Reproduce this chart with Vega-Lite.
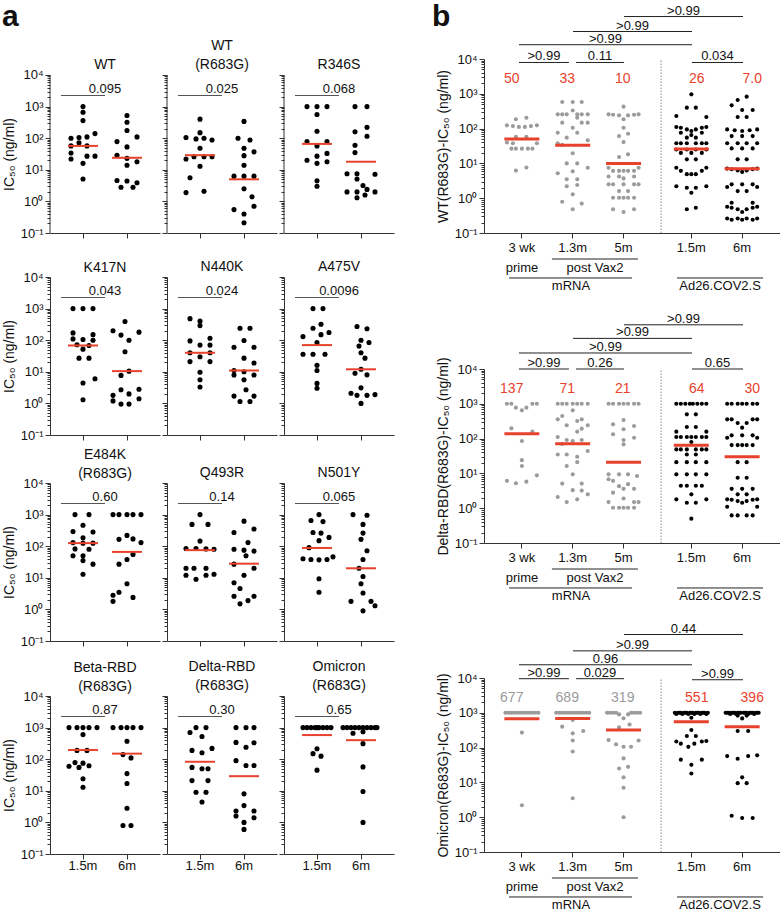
{
"$schema":"https://vega.github.io/schema/vega-lite/v6.json",
"padding":{"left":2,"top":1,"right":0,"bottom":0},
"config":{"font":"Liberation Sans","view":{"stroke":null},
"axis":{"domainColor":"#333","tickColor":"#333","labelColor":"#111","labelFontSize":13,"titleFontSize":14,"titleFontWeight":"normal","titleColor":"#111","grid":false,"labelFont":"Liberation Sans","titleFont":"Liberation Sans","titlePadding":4},
"title":{"fontSize":14,"fontWeight":"normal","color":"#111","offset":3,"lineHeight":19,"baseline":"bottom","font":"Liberation Sans"},
"text":{"font":"Liberation Sans","color":"#111"}},
"datasets":{
"A":[
{"p":"WT","g":1,"v":1000,"s":0},{"p":"WT","g":1,"v":660,"s":0},{"p":"WT","g":1,"v":360,"s":0},{"p":"WT","g":1,"v":140,"s":6},{"p":"WT","g":1,"v":100,"s":-6},{"p":"WT","g":1,"v":105,"s":-2},{"p":"WT","g":1,"v":110,"s":2},{"p":"WT","g":1,"v":72,"s":-2},{"p":"WT","g":1,"v":57,"s":-6},{"p":"WT","g":1,"v":57,"s":2},{"p":"WT","g":1,"v":34,"s":-6},{"p":"WT","g":1,"v":27,"s":2},{"p":"WT","g":1,"v":27,"s":6},{"p":"WT","g":1,"v":22,"s":-6},{"p":"WT","g":1,"v":16,"s":0},{"p":"WT","g":1,"v":5.1,"s":0},
{"p":"WT","g":2,"v":520,"s":0},{"p":"WT","g":2,"v":320,"s":0},{"p":"WT","g":2,"v":175,"s":0},{"p":"WT","g":2,"v":110,"s":5},{"p":"WT","g":2,"v":78,"s":-5},{"p":"WT","g":2,"v":53,"s":0},{"p":"WT","g":2,"v":29,"s":-5},{"p":"WT","g":2,"v":23,"s":0},{"p":"WT","g":2,"v":18,"s":5},{"p":"WT","g":2,"v":14,"s":0},{"p":"WT","g":2,"v":4.6,"s":-5},{"p":"WT","g":2,"v":4.4,"s":0},{"p":"WT","g":2,"v":3.9,"s":5},{"p":"WT","g":2,"v":2.8,"s":-3},{"p":"WT","g":2,"v":2.8,"s":3},
{"p":"WTR","g":1,"v":400,"s":0},{"p":"WTR","g":1,"v":150,"s":0},{"p":"WTR","g":1,"v":105,"s":-7},{"p":"WTR","g":1,"v":95,"s":-2},{"p":"WTR","g":1,"v":100,"s":2},{"p":"WTR","g":1,"v":88,"s":6},{"p":"WTR","g":1,"v":48,"s":0},{"p":"WTR","g":1,"v":22,"s":-7},{"p":"WTR","g":1,"v":26,"s":-3},{"p":"WTR","g":1,"v":26,"s":2},{"p":"WTR","g":1,"v":26,"s":6},{"p":"WTR","g":1,"v":13,"s":0},{"p":"WTR","g":1,"v":5.6,"s":-5},{"p":"WTR","g":1,"v":1.9,"s":-7},{"p":"WTR","g":1,"v":2.1,"s":2},
{"p":"WTR","g":2,"v":340,"s":0},{"p":"WTR","g":2,"v":100,"s":-3},{"p":"WTR","g":2,"v":88,"s":3},{"p":"WTR","g":2,"v":48,"s":0},{"p":"WTR","g":2,"v":37,"s":5},{"p":"WTR","g":2,"v":28,"s":0},{"p":"WTR","g":2,"v":14,"s":0},{"p":"WTR","g":2,"v":6.3,"s":-5},{"p":"WTR","g":2,"v":6.3,"s":0},{"p":"WTR","g":2,"v":6.3,"s":5},{"p":"WTR","g":2,"v":2.5,"s":0},{"p":"WTR","g":2,"v":1.4,"s":4},{"p":"WTR","g":2,"v":0.7,"s":5},{"p":"WTR","g":2,"v":0.55,"s":-5},{"p":"WTR","g":2,"v":0.4,"s":0},{"p":"WTR","g":2,"v":0.21,"s":0},
{"p":"R346S","g":1,"v":1000,"s":-5},{"p":"R346S","g":1,"v":1000,"s":0},{"p":"R346S","g":1,"v":1000,"s":5},{"p":"R346S","g":1,"v":560,"s":0},{"p":"R346S","g":1,"v":165,"s":0},{"p":"R346S","g":1,"v":78,"s":-5},{"p":"R346S","g":1,"v":78,"s":5},{"p":"R346S","g":1,"v":57,"s":0},{"p":"R346S","g":1,"v":33,"s":5},{"p":"R346S","g":1,"v":27,"s":0},{"p":"R346S","g":1,"v":20,"s":-5},{"p":"R346S","g":1,"v":18,"s":5},{"p":"R346S","g":1,"v":16,"s":0},{"p":"R346S","g":1,"v":4.5,"s":0},{"p":"R346S","g":1,"v":3,"s":0},
{"p":"R346S","g":2,"v":1000,"s":-3},{"p":"R346S","g":2,"v":1000,"s":3},{"p":"R346S","g":2,"v":220,"s":3},{"p":"R346S","g":2,"v":160,"s":-3},{"p":"R346S","g":2,"v":115,"s":3},{"p":"R346S","g":2,"v":60,"s":-3},{"p":"R346S","g":2,"v":35,"s":-3},{"p":"R346S","g":2,"v":7.5,"s":-7},{"p":"R346S","g":2,"v":7.5,"s":-2},{"p":"R346S","g":2,"v":7.2,"s":7},{"p":"R346S","g":2,"v":5.1,"s":-2},{"p":"R346S","g":2,"v":3.2,"s":1},{"p":"R346S","g":2,"v":2,"s":-7},{"p":"R346S","g":2,"v":2,"s":-2},{"p":"R346S","g":2,"v":2.4,"s":3},{"p":"R346S","g":2,"v":2,"s":7},{"p":"R346S","g":2,"v":1.3,"s":-2},{"p":"R346S","g":2,"v":1.6,"s":2},
{"p":"K417N","g":1,"v":1000,"s":-5},{"p":"K417N","g":1,"v":1000,"s":0},{"p":"K417N","g":1,"v":1000,"s":5},{"p":"K417N","g":1,"v":170,"s":-5},{"p":"K417N","g":1,"v":150,"s":5},{"p":"K417N","g":1,"v":110,"s":-5},{"p":"K417N","g":1,"v":105,"s":0},{"p":"K417N","g":1,"v":100,"s":5},{"p":"K417N","g":1,"v":72,"s":-3},{"p":"K417N","g":1,"v":68,"s":3},{"p":"K417N","g":1,"v":52,"s":0},{"p":"K417N","g":1,"v":27,"s":-2},{"p":"K417N","g":1,"v":27,"s":3},{"p":"K417N","g":1,"v":6,"s":6},{"p":"K417N","g":1,"v":4.4,"s":0},{"p":"K417N","g":1,"v":1.3,"s":0},
{"p":"K417N","g":2,"v":390,"s":-1},{"p":"K417N","g":2,"v":200,"s":-7},{"p":"K417N","g":2,"v":180,"s":6},{"p":"K417N","g":2,"v":145,"s":-3},{"p":"K417N","g":2,"v":100,"s":1},{"p":"K417N","g":2,"v":43,"s":-1},{"p":"K417N","g":2,"v":10.5,"s":1},{"p":"K417N","g":2,"v":7.7,"s":-3},{"p":"K417N","g":2,"v":2.8,"s":6},{"p":"K417N","g":2,"v":2.7,"s":-3},{"p":"K417N","g":2,"v":1.8,"s":-7},{"p":"K417N","g":2,"v":2,"s":1},{"p":"K417N","g":2,"v":1.4,"s":6},{"p":"K417N","g":2,"v":1.2,"s":-7},{"p":"K417N","g":2,"v":0.95,"s":-3},{"p":"K417N","g":2,"v":0.95,"s":1},
{"p":"N440K","g":1,"v":480,"s":-5},{"p":"N440K","g":1,"v":400,"s":0},{"p":"N440K","g":1,"v":290,"s":0},{"p":"N440K","g":1,"v":115,"s":5},{"p":"N440K","g":1,"v":95,"s":-5},{"p":"N440K","g":1,"v":70,"s":0},{"p":"N440K","g":1,"v":70,"s":5},{"p":"N440K","g":1,"v":40,"s":-5},{"p":"N440K","g":1,"v":40,"s":5},{"p":"N440K","g":1,"v":30,"s":0},{"p":"N440K","g":1,"v":21,"s":-5},{"p":"N440K","g":1,"v":21,"s":5},{"p":"N440K","g":1,"v":9.7,"s":0},{"p":"N440K","g":1,"v":5.6,"s":0},{"p":"N440K","g":1,"v":3.3,"s":0},
{"p":"N440K","g":2,"v":240,"s":-2},{"p":"N440K","g":2,"v":240,"s":3},{"p":"N440K","g":2,"v":98,"s":0},{"p":"N440K","g":2,"v":60,"s":-5},{"p":"N440K","g":2,"v":60,"s":5},{"p":"N440K","g":2,"v":27,"s":0},{"p":"N440K","g":2,"v":19,"s":5},{"p":"N440K","g":2,"v":11,"s":-5},{"p":"N440K","g":2,"v":10,"s":0},{"p":"N440K","g":2,"v":7.9,"s":-5},{"p":"N440K","g":2,"v":7.9,"s":5},{"p":"N440K","g":2,"v":5.6,"s":0},{"p":"N440K","g":2,"v":2.7,"s":1},{"p":"N440K","g":2,"v":1.7,"s":-5},{"p":"N440K","g":2,"v":1.7,"s":5},{"p":"N440K","g":2,"v":1.15,"s":-2},{"p":"N440K","g":2,"v":1.15,"s":3},
{"p":"A475V","g":1,"v":1000,"s":-2},{"p":"A475V","g":1,"v":1000,"s":3},{"p":"A475V","g":1,"v":320,"s":2},{"p":"A475V","g":1,"v":240,"s":-2},{"p":"A475V","g":1,"v":175,"s":6},{"p":"A475V","g":1,"v":150,"s":2},{"p":"A475V","g":1,"v":130,"s":-7},{"p":"A475V","g":1,"v":85,"s":0},{"p":"A475V","g":1,"v":36,"s":-7},{"p":"A475V","g":1,"v":36,"s":-2},{"p":"A475V","g":1,"v":36,"s":4},{"p":"A475V","g":1,"v":16,"s":0},{"p":"A475V","g":1,"v":11,"s":0},{"p":"A475V","g":1,"v":4.3,"s":0},{"p":"A475V","g":1,"v":3,"s":0},
{"p":"A475V","g":2,"v":270,"s":-2},{"p":"A475V","g":2,"v":230,"s":3},{"p":"A475V","g":2,"v":100,"s":0},{"p":"A475V","g":2,"v":85,"s":4},{"p":"A475V","g":2,"v":65,"s":-1},{"p":"A475V","g":2,"v":40,"s":0},{"p":"A475V","g":2,"v":27,"s":2},{"p":"A475V","g":2,"v":12,"s":0},{"p":"A475V","g":2,"v":9,"s":-3},{"p":"A475V","g":2,"v":8,"s":3},{"p":"A475V","g":2,"v":3.1,"s":0},{"p":"A475V","g":2,"v":2.1,"s":-5},{"p":"A475V","g":2,"v":1.8,"s":-2},{"p":"A475V","g":2,"v":1.8,"s":3},{"p":"A475V","g":2,"v":1.9,"s":7},{"p":"A475V","g":2,"v":1,"s":0},
{"p":"E484K","g":1,"v":1000,"s":-4},{"p":"E484K","g":1,"v":1000,"s":3},{"p":"E484K","g":1,"v":460,"s":0},{"p":"E484K","g":1,"v":290,"s":-5},{"p":"E484K","g":1,"v":280,"s":5},{"p":"E484K","g":1,"v":185,"s":0},{"p":"E484K","g":1,"v":130,"s":-5},{"p":"E484K","g":1,"v":125,"s":0},{"p":"E484K","g":1,"v":125,"s":5},{"p":"E484K","g":1,"v":82,"s":-4},{"p":"E484K","g":1,"v":80,"s":3},{"p":"E484K","g":1,"v":50,"s":-5},{"p":"E484K","g":1,"v":50,"s":0},{"p":"E484K","g":1,"v":35,"s":0},{"p":"E484K","g":1,"v":27,"s":5},{"p":"E484K","g":1,"v":13,"s":0},
{"p":"E484K","g":2,"v":1000,"s":-7},{"p":"E484K","g":2,"v":1000,"s":-4},{"p":"E484K","g":2,"v":1000,"s":0},{"p":"E484K","g":2,"v":1000,"s":3},{"p":"E484K","g":2,"v":1000,"s":7},{"p":"E484K","g":2,"v":220,"s":0},{"p":"E484K","g":2,"v":165,"s":-4},{"p":"E484K","g":2,"v":170,"s":3},{"p":"E484K","g":2,"v":130,"s":7},{"p":"E484K","g":2,"v":55,"s":3},{"p":"E484K","g":2,"v":38,"s":0},{"p":"E484K","g":2,"v":27,"s":-4},{"p":"E484K","g":2,"v":6.5,"s":0},{"p":"E484K","g":2,"v":3.5,"s":-4},{"p":"E484K","g":2,"v":2.8,"s":-7},{"p":"E484K","g":2,"v":2.4,"s":3},{"p":"E484K","g":2,"v":1.8,"s":-7},
{"p":"Q493R","g":1,"v":1000,"s":0},{"p":"Q493R","g":1,"v":490,"s":-4},{"p":"Q493R","g":1,"v":490,"s":4},{"p":"Q493R","g":1,"v":145,"s":0},{"p":"Q493R","g":1,"v":85,"s":-7},{"p":"Q493R","g":1,"v":85,"s":-2},{"p":"Q493R","g":1,"v":82,"s":3},{"p":"Q493R","g":1,"v":80,"s":7},{"p":"Q493R","g":1,"v":20,"s":-7},{"p":"Q493R","g":1,"v":20,"s":-3},{"p":"Q493R","g":1,"v":20,"s":3},{"p":"Q493R","g":1,"v":13,"s":7},{"p":"Q493R","g":1,"v":12,"s":-7},{"p":"Q493R","g":1,"v":12,"s":3},{"p":"Q493R","g":1,"v":9,"s":-2},
{"p":"Q493R","g":2,"v":620,"s":0},{"p":"Q493R","g":2,"v":350,"s":5},{"p":"Q493R","g":2,"v":270,"s":-5},{"p":"Q493R","g":2,"v":130,"s":2},{"p":"Q493R","g":2,"v":80,"s":-5},{"p":"Q493R","g":2,"v":75,"s":0},{"p":"Q493R","g":2,"v":70,"s":5},{"p":"Q493R","g":2,"v":50,"s":1},{"p":"Q493R","g":2,"v":27,"s":-5},{"p":"Q493R","g":2,"v":20,"s":5},{"p":"Q493R","g":2,"v":12,"s":0},{"p":"Q493R","g":2,"v":7,"s":-5},{"p":"Q493R","g":2,"v":4.6,"s":-2},{"p":"Q493R","g":2,"v":2.6,"s":-5},{"p":"Q493R","g":2,"v":2.6,"s":5},{"p":"Q493R","g":2,"v":1.9,"s":2},{"p":"Q493R","g":2,"v":1.5,"s":-2},
{"p":"N501Y","g":1,"v":1000,"s":1},{"p":"N501Y","g":1,"v":650,"s":-3},{"p":"N501Y","g":1,"v":600,"s":3},{"p":"N501Y","g":1,"v":270,"s":-2},{"p":"N501Y","g":1,"v":260,"s":2},{"p":"N501Y","g":1,"v":190,"s":6},{"p":"N501Y","g":1,"v":150,"s":1},{"p":"N501Y","g":1,"v":90,"s":-4},{"p":"N501Y","g":1,"v":40,"s":-7},{"p":"N501Y","g":1,"v":38,"s":-3},{"p":"N501Y","g":1,"v":37,"s":1},{"p":"N501Y","g":1,"v":38,"s":5},{"p":"N501Y","g":1,"v":46,"s":8},{"p":"N501Y","g":1,"v":9.3,"s":1},{"p":"N501Y","g":1,"v":3.5,"s":1},
{"p":"N501Y","g":2,"v":1000,"s":-4},{"p":"N501Y","g":2,"v":950,"s":3},{"p":"N501Y","g":2,"v":490,"s":1},{"p":"N501Y","g":2,"v":260,"s":1},{"p":"N501Y","g":2,"v":165,"s":0},{"p":"N501Y","g":2,"v":72,"s":3},{"p":"N501Y","g":2,"v":38,"s":1},{"p":"N501Y","g":2,"v":20,"s":-1},{"p":"N501Y","g":2,"v":11,"s":1},{"p":"N501Y","g":2,"v":6.5,"s":0},{"p":"N501Y","g":2,"v":3.3,"s":1},{"p":"N501Y","g":2,"v":1.8,"s":-5},{"p":"N501Y","g":2,"v":1.8,"s":5},{"p":"N501Y","g":2,"v":1.3,"s":7},{"p":"N501Y","g":2,"v":0.9,"s":1},
{"p":"Beta","g":1,"v":1000,"s":-7},{"p":"Beta","g":1,"v":1000,"s":-3},{"p":"Beta","g":1,"v":1000,"s":0},{"p":"Beta","g":1,"v":1000,"s":3},{"p":"Beta","g":1,"v":1000,"s":7},{"p":"Beta","g":1,"v":600,"s":0},{"p":"Beta","g":1,"v":190,"s":-3},{"p":"Beta","g":1,"v":190,"s":2},{"p":"Beta","g":1,"v":78,"s":-4},{"p":"Beta","g":1,"v":75,"s":0},{"p":"Beta","g":1,"v":62,"s":3},{"p":"Beta","g":1,"v":60,"s":-7},{"p":"Beta","g":1,"v":55,"s":-2},{"p":"Beta","g":1,"v":24,"s":0},{"p":"Beta","g":1,"v":13,"s":0},
{"p":"Beta","g":2,"v":1000,"s":-7},{"p":"Beta","g":2,"v":1000,"s":-3},{"p":"Beta","g":2,"v":1000,"s":0},{"p":"Beta","g":2,"v":1000,"s":3},{"p":"Beta","g":2,"v":1000,"s":7},{"p":"Beta","g":2,"v":370,"s":0},{"p":"Beta","g":2,"v":140,"s":-2},{"p":"Beta","g":2,"v":110,"s":2},{"p":"Beta","g":2,"v":35,"s":0},{"p":"Beta","g":2,"v":17,"s":0},{"p":"Beta","g":2,"v":2.8,"s":0},{"p":"Beta","g":2,"v":0.8,"s":-2},{"p":"Beta","g":2,"v":0.8,"s":2},
{"p":"Delta","g":1,"v":1000,"s":-2},{"p":"Delta","g":1,"v":1000,"s":3},{"p":"Delta","g":1,"v":700,"s":-5},{"p":"Delta","g":1,"v":520,"s":1},{"p":"Delta","g":1,"v":220,"s":6},{"p":"Delta","g":1,"v":190,"s":-4},{"p":"Delta","g":1,"v":160,"s":1},{"p":"Delta","g":1,"v":55,"s":-4},{"p":"Delta","g":1,"v":50,"s":1},{"p":"Delta","g":1,"v":50,"s":4},{"p":"Delta","g":1,"v":21,"s":-4},{"p":"Delta","g":1,"v":21,"s":4},{"p":"Delta","g":1,"v":9,"s":-2},{"p":"Delta","g":1,"v":9,"s":3},{"p":"Delta","g":1,"v":4.4,"s":1},
{"p":"Delta","g":2,"v":1000,"s":-4},{"p":"Delta","g":2,"v":1000,"s":1},{"p":"Delta","g":2,"v":1000,"s":5},{"p":"Delta","g":2,"v":340,"s":-4},{"p":"Delta","g":2,"v":330,"s":5},{"p":"Delta","g":2,"v":240,"s":1},{"p":"Delta","g":2,"v":90,"s":-4},{"p":"Delta","g":2,"v":63,"s":1},{"p":"Delta","g":2,"v":63,"s":5},{"p":"Delta","g":2,"v":8,"s":0},{"p":"Delta","g":2,"v":3.4,"s":0},{"p":"Delta","g":2,"v":2.3,"s":-4},{"p":"Delta","g":2,"v":2.3,"s":5},{"p":"Delta","g":2,"v":1.6,"s":-4},{"p":"Delta","g":2,"v":1.4,"s":5},{"p":"Delta","g":2,"v":1,"s":0},{"p":"Delta","g":2,"v":0.6,"s":0},
{"p":"Omi","g":1,"v":1000,"s":-7},{"p":"Omi","g":1,"v":1000,"s":-5},{"p":"Omi","g":1,"v":1000,"s":-3},{"p":"Omi","g":1,"v":1000,"s":-1},{"p":"Omi","g":1,"v":1000,"s":1},{"p":"Omi","g":1,"v":1000,"s":3},{"p":"Omi","g":1,"v":1000,"s":5},{"p":"Omi","g":1,"v":1000,"s":7},{"p":"Omi","g":1,"v":1000,"s":0},{"p":"Omi","g":1,"v":215,"s":0},{"p":"Omi","g":1,"v":150,"s":-2},{"p":"Omi","g":1,"v":125,"s":2},{"p":"Omi","g":1,"v":45,"s":0},
{"p":"Omi","g":2,"v":1000,"s":-9},{"p":"Omi","g":2,"v":1000,"s":-7},{"p":"Omi","g":2,"v":1000,"s":-5},{"p":"Omi","g":2,"v":1000,"s":-3},{"p":"Omi","g":2,"v":1000,"s":-1},{"p":"Omi","g":2,"v":1000,"s":1},{"p":"Omi","g":2,"v":1000,"s":3},{"p":"Omi","g":2,"v":1000,"s":5},{"p":"Omi","g":2,"v":1000,"s":7},{"p":"Omi","g":2,"v":1000,"s":8},{"p":"Omi","g":2,"v":740,"s":1},{"p":"Omi","g":2,"v":660,"s":-4},{"p":"Omi","g":2,"v":310,"s":1},{"p":"Omi","g":2,"v":57,"s":1},{"p":"Omi","g":2,"v":9.5,"s":1},{"p":"Omi","g":2,"v":1,"s":1},
{"p":"WT","g":1,"v":57,"k":"m"},{"p":"WT","g":2,"v":24,"k":"m"},{"p":"WTR","g":1,"v":29,"k":"m"},{"p":"WTR","g":2,"v":5,"k":"m"},{"p":"R346S","g":1,"v":66,"k":"m"},{"p":"R346S","g":2,"v":18,"k":"m"},{"p":"K417N","g":1,"v":68,"k":"m"},{"p":"K417N","g":2,"v":10.5,"k":"m"},{"p":"N440K","g":1,"v":40,"k":"m"},{"p":"N440K","g":2,"v":11,"k":"m"},{"p":"A475V","g":1,"v":70,"k":"m"},{"p":"A475V","g":2,"v":12,"k":"m"},{"p":"E484K","g":1,"v":125,"k":"m"},{"p":"E484K","g":2,"v":66,"k":"m"},{"p":"Q493R","g":1,"v":75,"k":"m"},{"p":"Q493R","g":2,"v":28,"k":"m"},{"p":"N501Y","g":1,"v":88,"k":"m"},{"p":"N501Y","g":2,"v":20,"k":"m"},{"p":"Beta","g":1,"v":195,"k":"m"},{"p":"Beta","g":2,"v":150,"k":"m"},{"p":"Delta","g":1,"v":83,"k":"m"},{"p":"Delta","g":2,"v":29,"k":"m"},{"p":"Omi","g":1,"v":580,"k":"m"},{"p":"Omi","g":2,"v":400,"k":"m"},
{"p":"WT","k":"p","t":"0.095"},{"p":"WTR","k":"p","t":"0.025"},{"p":"R346S","k":"p","t":"0.068"},{"p":"K417N","k":"p","t":"0.043"},{"p":"N440K","k":"p","t":"0.024"},{"p":"A475V","k":"p","t":"0.0096"},{"p":"E484K","k":"p","t":"0.60"},{"p":"Q493R","k":"p","t":"0.14"},{"p":"N501Y","k":"p","t":"0.065"},{"p":"Beta","k":"p","t":"0.87"},{"p":"Delta","k":"p","t":"0.30"},{"p":"Omi","k":"p","t":"0.65"}
],
"B":[
{"p":1,"g":1,"v":205,"s":3},{"p":1,"g":1,"v":185,"s":-4},{"p":1,"g":1,"v":124,"s":-10},{"p":1,"g":1,"v":118,"s":-6},{"p":1,"g":1,"v":112,"s":-2},{"p":1,"g":1,"v":112,"s":2},{"p":1,"g":1,"v":118,"s":6},{"p":1,"g":1,"v":124,"s":10},{"p":1,"g":1,"v":58,"s":-4},{"p":1,"g":1,"v":58,"s":3},{"p":1,"g":1,"v":40,"s":-10},{"p":1,"g":1,"v":38,"s":-6},{"p":1,"g":1,"v":38,"s":10},{"p":1,"g":1,"v":26.5,"s":-7},{"p":1,"g":1,"v":26.5,"s":-4},{"p":1,"g":1,"v":26.5,"s":0},{"p":1,"g":1,"v":26.5,"s":4},{"p":1,"g":1,"v":26.5,"s":7},{"p":1,"g":1,"v":6.2,"s":-4},{"p":1,"g":1,"v":7.6,"s":3},
{"p":1,"g":2,"v":581,"s":-7},{"p":1,"g":2,"v":581,"s":0},{"p":1,"g":2,"v":581,"s":6},{"p":1,"g":2,"v":331,"s":0},{"p":1,"g":2,"v":257,"s":-10},{"p":1,"g":2,"v":257,"s":-7},{"p":1,"g":2,"v":257,"s":-4},{"p":1,"g":2,"v":257,"s":3},{"p":1,"g":2,"v":257,"s":6},{"p":1,"g":2,"v":257,"s":10},{"p":1,"g":2,"v":206,"s":3},{"p":1,"g":2,"v":148,"s":-7},{"p":1,"g":2,"v":148,"s":6},{"p":1,"g":2,"v":148,"s":10},{"p":1,"g":2,"v":106,"s":0},{"p":1,"g":2,"v":76,"s":-10},{"p":1,"g":2,"v":76,"s":3},{"p":1,"g":2,"v":55,"s":-4},{"p":1,"g":2,"v":46,"s":10},{"p":1,"g":2,"v":38,"s":-10},{"p":1,"g":2,"v":34,"s":-7},{"p":1,"g":2,"v":19.5,"s":0},{"p":1,"g":2,"v":10,"s":-4},{"p":1,"g":2,"v":10,"s":3},{"p":1,"g":2,"v":7.5,"s":10},{"p":1,"g":2,"v":5.9,"s":0},{"p":1,"g":2,"v":5.2,"s":-10},{"p":1,"g":2,"v":3.5,"s":-4},{"p":1,"g":2,"v":3.5,"s":3},{"p":1,"g":2,"v":2.4,"s":3},{"p":1,"g":2,"v":2.2,"s":-4},{"p":1,"g":2,"v":1.29,"s":0},{"p":1,"g":2,"v":0.79,"s":-7},{"p":1,"g":2,"v":0.7,"s":6},{"p":1,"g":2,"v":0.48,"s":0},
{"p":1,"g":3,"v":427,"s":0},{"p":1,"g":3,"v":257,"s":-10},{"p":1,"g":3,"v":250,"s":-7},{"p":1,"g":3,"v":240,"s":-3},{"p":1,"g":3,"v":240,"s":3},{"p":1,"g":3,"v":250,"s":7},{"p":1,"g":3,"v":257,"s":10},{"p":1,"g":3,"v":185,"s":0},{"p":1,"g":3,"v":106,"s":0},{"p":1,"g":3,"v":61,"s":-3},{"p":1,"g":3,"v":71,"s":3},{"p":1,"g":3,"v":41,"s":0},{"p":1,"g":3,"v":15.3,"s":-3},{"p":1,"g":3,"v":18.2,"s":3},{"p":1,"g":3,"v":7.5,"s":-10},{"p":1,"g":3,"v":6.1,"s":-7},{"p":1,"g":3,"v":6.1,"s":-3},{"p":1,"g":3,"v":6.1,"s":0},{"p":1,"g":3,"v":6.1,"s":3},{"p":1,"g":3,"v":6.1,"s":7},{"p":1,"g":3,"v":7.5,"s":10},{"p":1,"g":3,"v":4.2,"s":-10},{"p":1,"g":3,"v":4.2,"s":-3},{"p":1,"g":3,"v":3.7,"s":0},{"p":1,"g":3,"v":4.2,"s":7},{"p":1,"g":3,"v":2.5,"s":-10},{"p":1,"g":3,"v":2.5,"s":-7},{"p":1,"g":3,"v":2.5,"s":0},{"p":1,"g":3,"v":2.5,"s":7},{"p":1,"g":3,"v":2.5,"s":10},{"p":1,"g":3,"v":1.6,"s":-3},{"p":1,"g":3,"v":1.6,"s":3},{"p":1,"g":3,"v":1.03,"s":-7},{"p":1,"g":3,"v":1.03,"s":-3},{"p":1,"g":3,"v":1.03,"s":0},{"p":1,"g":3,"v":1.03,"s":3},{"p":1,"g":3,"v":1.03,"s":7},{"p":1,"g":3,"v":0.48,"s":-7},{"p":1,"g":3,"v":0.48,"s":7},{"p":1,"g":3,"v":0.4,"s":0},
{"p":1,"g":4.4,"v":965,"s":0},{"p":1,"g":4.4,"v":399,"s":-3},{"p":1,"g":4.4,"v":399,"s":3},{"p":1,"g":4.4,"v":230,"s":-10},{"p":1,"g":4.4,"v":215,"s":10},{"p":1,"g":4.4,"v":111,"s":-10},{"p":1,"g":4.4,"v":106,"s":-7},{"p":1,"g":4.4,"v":95,"s":-3},{"p":1,"g":4.4,"v":85,"s":0},{"p":1,"g":4.4,"v":95,"s":3},{"p":1,"g":4.4,"v":106,"s":7},{"p":1,"g":4.4,"v":111,"s":10},{"p":1,"g":4.4,"v":76,"s":-7},{"p":1,"g":4.4,"v":65,"s":0},{"p":1,"g":4.4,"v":76,"s":7},{"p":1,"g":4.4,"v":55,"s":-3},{"p":1,"g":4.4,"v":55,"s":3},{"p":1,"g":4.4,"v":38,"s":-10},{"p":1,"g":4.4,"v":38,"s":-7},{"p":1,"g":4.4,"v":38,"s":-3},{"p":1,"g":4.4,"v":38,"s":3},{"p":1,"g":4.4,"v":38,"s":7},{"p":1,"g":4.4,"v":38,"s":10},{"p":1,"g":4.4,"v":25,"s":-10},{"p":1,"g":4.4,"v":25,"s":-3},{"p":1,"g":4.4,"v":25,"s":3},{"p":1,"g":4.4,"v":25,"s":10},{"p":1,"g":4.4,"v":20,"s":-7},{"p":1,"g":4.4,"v":20,"s":0},{"p":1,"g":4.4,"v":20,"s":7},{"p":1,"g":4.4,"v":13.1,"s":-3},{"p":1,"g":4.4,"v":13.1,"s":3},{"p":1,"g":4.4,"v":7.5,"s":-10},{"p":1,"g":4.4,"v":7.5,"s":10},{"p":1,"g":4.4,"v":6.1,"s":-7},{"p":1,"g":4.4,"v":6.1,"s":7},{"p":1,"g":4.4,"v":4.9,"s":-3},{"p":1,"g":4.4,"v":4.9,"s":0},{"p":1,"g":4.4,"v":4.9,"s":3},{"p":1,"g":4.4,"v":2.2,"s":-10},{"p":1,"g":4.4,"v":2.2,"s":10},{"p":1,"g":4.4,"v":2,"s":-3},{"p":1,"g":4.4,"v":2,"s":3},{"p":1,"g":4.4,"v":1.44,"s":0},{"p":1,"g":4.4,"v":0.48,"s":-3},{"p":1,"g":4.4,"v":0.53,"s":3},
{"p":1,"g":5.4,"v":828,"s":3},{"p":1,"g":5.4,"v":664,"s":-3},{"p":1,"g":5.4,"v":466,"s":-7},{"p":1,"g":5.4,"v":342,"s":0},{"p":1,"g":5.4,"v":342,"s":7},{"p":1,"g":5.4,"v":215,"s":-3},{"p":1,"g":5.4,"v":215,"s":3},{"p":1,"g":5.4,"v":95,"s":-10},{"p":1,"g":5.4,"v":90,"s":-5},{"p":1,"g":5.4,"v":85,"s":0},{"p":1,"g":5.4,"v":90,"s":5},{"p":1,"g":5.4,"v":95,"s":10},{"p":1,"g":5.4,"v":61,"s":-7},{"p":1,"g":5.4,"v":61,"s":0},{"p":1,"g":5.4,"v":61,"s":7},{"p":1,"g":5.4,"v":38,"s":-10},{"p":1,"g":5.4,"v":38,"s":-3},{"p":1,"g":5.4,"v":38,"s":3},{"p":1,"g":5.4,"v":38,"s":10},{"p":1,"g":5.4,"v":27,"s":-7},{"p":1,"g":5.4,"v":27,"s":0},{"p":1,"g":5.4,"v":27,"s":7},{"p":1,"g":5.4,"v":13.1,"s":-3},{"p":1,"g":5.4,"v":13.1,"s":3},{"p":1,"g":5.4,"v":7.1,"s":-10},{"p":1,"g":5.4,"v":6.8,"s":-7},{"p":1,"g":5.4,"v":6.3,"s":-3},{"p":1,"g":5.4,"v":5.7,"s":0},{"p":1,"g":5.4,"v":6.3,"s":3},{"p":1,"g":5.4,"v":6.8,"s":7},{"p":1,"g":5.4,"v":7.1,"s":10},{"p":1,"g":5.4,"v":2.5,"s":-7},{"p":1,"g":5.4,"v":2.5,"s":0},{"p":1,"g":5.4,"v":2.5,"s":7},{"p":1,"g":5.4,"v":2.1,"s":-10},{"p":1,"g":5.4,"v":2.1,"s":10},{"p":1,"g":5.4,"v":1.6,"s":-3},{"p":1,"g":5.4,"v":1.6,"s":3},{"p":1,"g":5.4,"v":0.74,"s":-7},{"p":1,"g":5.4,"v":0.74,"s":7},{"p":1,"g":5.4,"v":0.57,"s":-10},{"p":1,"g":5.4,"v":0.53,"s":-7},{"p":1,"g":5.4,"v":0.48,"s":-3},{"p":1,"g":5.4,"v":0.4,"s":0},{"p":1,"g":5.4,"v":0.48,"s":3},{"p":1,"g":5.4,"v":0.53,"s":7},{"p":1,"g":5.4,"v":0.57,"s":10},{"p":1,"g":5.4,"v":0.26,"s":-10},{"p":1,"g":5.4,"v":0.26,"s":-3},{"p":1,"g":5.4,"v":0.26,"s":3},{"p":1,"g":5.4,"v":0.26,"s":10},{"p":1,"g":5.4,"v":0.24,"s":-7},{"p":1,"g":5.4,"v":0.24,"s":0},{"p":1,"g":5.4,"v":0.24,"s":7},
{"p":2,"g":1,"v":1000,"s":-10},{"p":2,"g":1,"v":1000,"s":-7},{"p":2,"g":1,"v":1000,"s":7},{"p":2,"g":1,"v":1000,"s":10},{"p":2,"g":1,"v":774,"s":-4},{"p":2,"g":1,"v":649,"s":0},{"p":2,"g":1,"v":774,"s":3},{"p":2,"g":1,"v":197,"s":-7},{"p":2,"g":1,"v":158,"s":7},{"p":2,"g":1,"v":85,"s":0},{"p":2,"g":1,"v":24,"s":0},{"p":2,"g":1,"v":16.3,"s":0},{"p":2,"g":1,"v":8.8,"s":10},{"p":2,"g":1,"v":6.1,"s":-10},{"p":2,"g":1,"v":5.2,"s":-4},{"p":2,"g":1,"v":5.8,"s":3},
{"p":2,"g":2,"v":1000,"s":-10},{"p":2,"g":2,"v":1000,"s":-7},{"p":2,"g":2,"v":1000,"s":-4},{"p":2,"g":2,"v":1000,"s":0},{"p":2,"g":2,"v":1000,"s":3},{"p":2,"g":2,"v":1000,"s":6},{"p":2,"g":2,"v":1000,"s":10},{"p":2,"g":2,"v":649,"s":0},{"p":2,"g":2,"v":446,"s":-7},{"p":2,"g":2,"v":358,"s":-10},{"p":2,"g":2,"v":358,"s":6},{"p":2,"g":2,"v":321,"s":3},{"p":2,"g":2,"v":241,"s":-4},{"p":2,"g":2,"v":241,"s":10},{"p":2,"g":2,"v":193,"s":6},{"p":2,"g":2,"v":158,"s":3},{"p":2,"g":2,"v":111,"s":-10},{"p":2,"g":2,"v":91,"s":-4},{"p":2,"g":2,"v":91,"s":6},{"p":2,"g":2,"v":85,"s":0},{"p":2,"g":2,"v":70,"s":-7},{"p":2,"g":2,"v":44,"s":10},{"p":2,"g":2,"v":35,"s":-10},{"p":2,"g":2,"v":35,"s":-4},{"p":2,"g":2,"v":30,"s":3},{"p":2,"g":2,"v":21,"s":3},{"p":2,"g":2,"v":16.3,"s":-4},{"p":2,"g":2,"v":9.4,"s":0},{"p":2,"g":2,"v":5.1,"s":-7},{"p":2,"g":2,"v":5.1,"s":6},{"p":2,"g":2,"v":3.3,"s":0},{"p":2,"g":2,"v":3.2,"s":6},{"p":2,"g":2,"v":2.5,"s":10},{"p":2,"g":2,"v":2.1,"s":-10},{"p":2,"g":2,"v":1.5,"s":-4},{"p":2,"g":2,"v":1.8,"s":3},
{"p":2,"g":3,"v":1000,"s":-10},{"p":2,"g":3,"v":1000,"s":-7},{"p":2,"g":3,"v":1000,"s":-3},{"p":2,"g":3,"v":1000,"s":0},{"p":2,"g":3,"v":1000,"s":3},{"p":2,"g":3,"v":1000,"s":7},{"p":2,"g":3,"v":1000,"s":10},{"p":2,"g":3,"v":340,"s":0},{"p":2,"g":3,"v":257,"s":-7},{"p":2,"g":3,"v":230,"s":7},{"p":2,"g":3,"v":185,"s":0},{"p":2,"g":3,"v":133,"s":-7},{"p":2,"g":3,"v":106,"s":7},{"p":2,"g":3,"v":91,"s":0},{"p":2,"g":3,"v":68,"s":0},{"p":2,"g":3,"v":9.4,"s":-10},{"p":2,"g":3,"v":9.4,"s":-3},{"p":2,"g":3,"v":9.4,"s":3},{"p":2,"g":3,"v":8.4,"s":9},{"p":2,"g":3,"v":6.8,"s":-10},{"p":2,"g":3,"v":6.1,"s":-7},{"p":2,"g":3,"v":4.9,"s":3},{"p":2,"g":3,"v":4.3,"s":-3},{"p":2,"g":3,"v":3.6,"s":0},{"p":2,"g":3,"v":3.6,"s":7},{"p":2,"g":3,"v":2.8,"s":-7},{"p":2,"g":3,"v":1.9,"s":0},{"p":2,"g":3,"v":1.5,"s":-10},{"p":2,"g":3,"v":1.5,"s":7},{"p":2,"g":3,"v":1.5,"s":10},{"p":2,"g":3,"v":1.03,"s":-7},{"p":2,"g":3,"v":1.03,"s":-3},{"p":2,"g":3,"v":1.03,"s":0},{"p":2,"g":3,"v":1.03,"s":3},{"p":2,"g":3,"v":1.03,"s":7},
{"p":2,"g":4.4,"v":1000,"s":-10},{"p":2,"g":4.4,"v":1000,"s":-7},{"p":2,"g":4.4,"v":1000,"s":-4},{"p":2,"g":4.4,"v":1000,"s":-1},{"p":2,"g":4.4,"v":1000,"s":1},{"p":2,"g":4.4,"v":1000,"s":4},{"p":2,"g":4.4,"v":1000,"s":7},{"p":2,"g":4.4,"v":1000,"s":10},{"p":2,"g":4.4,"v":498,"s":-3},{"p":2,"g":4.4,"v":498,"s":3},{"p":2,"g":4.4,"v":215,"s":-3},{"p":2,"g":4.4,"v":215,"s":3},{"p":2,"g":4.4,"v":158,"s":-10},{"p":2,"g":4.4,"v":158,"s":10},{"p":2,"g":4.4,"v":111,"s":-10},{"p":2,"g":4.4,"v":111,"s":-7},{"p":2,"g":4.4,"v":111,"s":-3},{"p":2,"g":4.4,"v":111,"s":0},{"p":2,"g":4.4,"v":111,"s":3},{"p":2,"g":4.4,"v":111,"s":7},{"p":2,"g":4.4,"v":111,"s":10},{"p":2,"g":4.4,"v":80,"s":0},{"p":2,"g":4.4,"v":49,"s":-10},{"p":2,"g":4.4,"v":49,"s":-7},{"p":2,"g":4.4,"v":49,"s":-3},{"p":2,"g":4.4,"v":49,"s":3},{"p":2,"g":4.4,"v":49,"s":7},{"p":2,"g":4.4,"v":49,"s":10},{"p":2,"g":4.4,"v":35,"s":-3},{"p":2,"g":4.4,"v":35,"s":3},{"p":2,"g":4.4,"v":21,"s":-10},{"p":2,"g":4.4,"v":21,"s":-3},{"p":2,"g":4.4,"v":21,"s":3},{"p":2,"g":4.4,"v":21,"s":10},{"p":2,"g":4.4,"v":9.4,"s":-10},{"p":2,"g":4.4,"v":9.4,"s":-3},{"p":2,"g":4.4,"v":9.4,"s":3},{"p":2,"g":4.4,"v":9.4,"s":10},{"p":2,"g":4.4,"v":4.4,"s":-7},{"p":2,"g":4.4,"v":4.4,"s":-3},{"p":2,"g":4.4,"v":4.4,"s":3},{"p":2,"g":4.4,"v":4.4,"s":7},{"p":2,"g":4.4,"v":2.5,"s":0},{"p":2,"g":4.4,"v":1.8,"s":-10},{"p":2,"g":4.4,"v":1.8,"s":10},{"p":2,"g":4.4,"v":1.44,"s":-3},{"p":2,"g":4.4,"v":1.44,"s":3},{"p":2,"g":4.4,"v":0.5,"s":0},
{"p":2,"g":5.4,"v":1000,"s":-10},{"p":2,"g":5.4,"v":1000,"s":-7},{"p":2,"g":5.4,"v":1000,"s":-3},{"p":2,"g":5.4,"v":1000,"s":0},{"p":2,"g":5.4,"v":1000,"s":3},{"p":2,"g":5.4,"v":1000,"s":7},{"p":2,"g":5.4,"v":1000,"s":10},{"p":2,"g":5.4,"v":358,"s":-10},{"p":2,"g":5.4,"v":358,"s":-7},{"p":2,"g":5.4,"v":280,"s":-3},{"p":2,"g":5.4,"v":206,"s":0},{"p":2,"g":5.4,"v":280,"s":3},{"p":2,"g":5.4,"v":358,"s":7},{"p":2,"g":5.4,"v":358,"s":10},{"p":2,"g":5.4,"v":124,"s":-7},{"p":2,"g":5.4,"v":124,"s":0},{"p":2,"g":5.4,"v":124,"s":7},{"p":2,"g":5.4,"v":106,"s":-10},{"p":2,"g":5.4,"v":106,"s":10},{"p":2,"g":5.4,"v":65,"s":-7},{"p":2,"g":5.4,"v":65,"s":-3},{"p":2,"g":5.4,"v":65,"s":0},{"p":2,"g":5.4,"v":65,"s":3},{"p":2,"g":5.4,"v":65,"s":7},{"p":2,"g":5.4,"v":21,"s":-3},{"p":2,"g":5.4,"v":21,"s":3},{"p":2,"g":5.4,"v":7.5,"s":-3},{"p":2,"g":5.4,"v":7.5,"s":3},{"p":2,"g":5.4,"v":3.6,"s":-7},{"p":2,"g":5.4,"v":3.6,"s":0},{"p":2,"g":5.4,"v":3.6,"s":7},{"p":2,"g":5.4,"v":2.5,"s":-3},{"p":2,"g":5.4,"v":2.5,"s":3},{"p":2,"g":5.4,"v":1.8,"s":-10},{"p":2,"g":5.4,"v":1.75,"s":-7},{"p":2,"g":5.4,"v":1.6,"s":-3},{"p":2,"g":5.4,"v":1.44,"s":0},{"p":2,"g":5.4,"v":1.6,"s":3},{"p":2,"g":5.4,"v":1.75,"s":7},{"p":2,"g":5.4,"v":1.8,"s":10},{"p":2,"g":5.4,"v":1.1,"s":-10},{"p":2,"g":5.4,"v":1.1,"s":10},{"p":2,"g":5.4,"v":0.62,"s":-7},{"p":2,"g":5.4,"v":0.62,"s":-3},{"p":2,"g":5.4,"v":0.62,"s":3},{"p":2,"g":5.4,"v":0.62,"s":7},
{"p":3,"g":1,"v":1000,"s":-11},{"p":3,"g":1,"v":1000,"s":-9},{"p":3,"g":1,"v":1000,"s":-7},{"p":3,"g":1,"v":1000,"s":-5},{"p":3,"g":1,"v":1000,"s":-3},{"p":3,"g":1,"v":1000,"s":-1},{"p":3,"g":1,"v":1000,"s":1},{"p":3,"g":1,"v":1000,"s":3},{"p":3,"g":1,"v":1000,"s":5},{"p":3,"g":1,"v":1000,"s":7},{"p":3,"g":1,"v":1000,"s":9},{"p":3,"g":1,"v":1000,"s":11},{"p":3,"g":1,"v":270,"s":0},{"p":3,"g":1,"v":2.2,"s":0},
{"p":3,"g":2,"v":1000,"s":-11},{"p":3,"g":2,"v":1000,"s":-9},{"p":3,"g":2,"v":1000,"s":-7},{"p":3,"g":2,"v":1000,"s":-5},{"p":3,"g":2,"v":1000,"s":-3},{"p":3,"g":2,"v":1000,"s":-1},{"p":3,"g":2,"v":1000,"s":1},{"p":3,"g":2,"v":1000,"s":3},{"p":3,"g":2,"v":1000,"s":5},{"p":3,"g":2,"v":1000,"s":7},{"p":3,"g":2,"v":1000,"s":9},{"p":3,"g":2,"v":1000,"s":11},{"p":3,"g":2,"v":620,"s":0},{"p":3,"g":2,"v":400,"s":-7},{"p":3,"g":2,"v":300,"s":7},{"p":3,"g":2,"v":257,"s":0},{"p":3,"g":2,"v":160,"s":0},{"p":3,"g":2,"v":77,"s":0},{"p":3,"g":2,"v":3.5,"s":0},
{"p":3,"g":3,"v":1000,"s":-11},{"p":3,"g":3,"v":1000,"s":-9},{"p":3,"g":3,"v":1000,"s":-7},{"p":3,"g":3,"v":1000,"s":-5},{"p":3,"g":3,"v":1000,"s":5},{"p":3,"g":3,"v":1000,"s":7},{"p":3,"g":3,"v":1000,"s":9},{"p":3,"g":3,"v":1000,"s":11},{"p":3,"g":3,"v":900,"s":-3},{"p":3,"g":3,"v":900,"s":3},{"p":3,"g":3,"v":700,"s":0},{"p":3,"g":3,"v":460,"s":4},{"p":3,"g":3,"v":380,"s":-3},{"p":3,"g":3,"v":165,"s":-10},{"p":3,"g":3,"v":160,"s":10},{"p":3,"g":3,"v":124,"s":-5},{"p":3,"g":3,"v":106,"s":0},{"p":3,"g":3,"v":106,"s":5},{"p":3,"g":3,"v":49,"s":0},{"p":3,"g":3,"v":25,"s":-3},{"p":3,"g":3,"v":28,"s":3},{"p":3,"g":3,"v":14,"s":0},{"p":3,"g":3,"v":7,"s":0},{"p":3,"g":3,"v":1,"s":0},
{"p":3,"g":4.4,"v":1000,"s":-11},{"p":3,"g":4.4,"v":1000,"s":-9},{"p":3,"g":4.4,"v":1000,"s":-7},{"p":3,"g":4.4,"v":1000,"s":-5},{"p":3,"g":4.4,"v":1000,"s":-3},{"p":3,"g":4.4,"v":1000,"s":-1},{"p":3,"g":4.4,"v":1000,"s":1},{"p":3,"g":4.4,"v":1000,"s":3},{"p":3,"g":4.4,"v":1000,"s":5},{"p":3,"g":4.4,"v":1000,"s":7},{"p":3,"g":4.4,"v":1000,"s":9},{"p":3,"g":4.4,"v":1000,"s":11},{"p":3,"g":4.4,"v":1000,"s":-8},{"p":3,"g":4.4,"v":1000,"s":-4},{"p":3,"g":4.4,"v":1000,"s":0},{"p":3,"g":4.4,"v":1000,"s":4},{"p":3,"g":4.4,"v":1000,"s":8},{"p":3,"g":4.4,"v":920,"s":-10},{"p":3,"g":4.4,"v":920,"s":-6},{"p":3,"g":4.4,"v":920,"s":-2},{"p":3,"g":4.4,"v":920,"s":2},{"p":3,"g":4.4,"v":920,"s":6},{"p":3,"g":4.4,"v":920,"s":10},{"p":3,"g":4.4,"v":720,"s":0},{"p":3,"g":4.4,"v":320,"s":0},{"p":3,"g":4.4,"v":215,"s":-3},{"p":3,"g":4.4,"v":215,"s":3},{"p":3,"g":4.4,"v":150,"s":-10},{"p":3,"g":4.4,"v":130,"s":-7},{"p":3,"g":4.4,"v":105,"s":-2},{"p":3,"g":4.4,"v":130,"s":2},{"p":3,"g":4.4,"v":150,"s":7},{"p":3,"g":4.4,"v":155,"s":10},{"p":3,"g":4.4,"v":45,"s":-7},{"p":3,"g":4.4,"v":45,"s":7},{"p":3,"g":4.4,"v":32,"s":0},{"p":3,"g":4.4,"v":18,"s":0},
{"p":3,"g":5.4,"v":1000,"s":-11},{"p":3,"g":5.4,"v":1000,"s":-9},{"p":3,"g":5.4,"v":1000,"s":-7},{"p":3,"g":5.4,"v":1000,"s":-5},{"p":3,"g":5.4,"v":1000,"s":-3},{"p":3,"g":5.4,"v":1000,"s":-1},{"p":3,"g":5.4,"v":1000,"s":1},{"p":3,"g":5.4,"v":1000,"s":3},{"p":3,"g":5.4,"v":1000,"s":5},{"p":3,"g":5.4,"v":1000,"s":7},{"p":3,"g":5.4,"v":1000,"s":9},{"p":3,"g":5.4,"v":1000,"s":11},{"p":3,"g":5.4,"v":1000,"s":-10},{"p":3,"g":5.4,"v":1000,"s":-6},{"p":3,"g":5.4,"v":1000,"s":-2},{"p":3,"g":5.4,"v":1000,"s":2},{"p":3,"g":5.4,"v":1000,"s":6},{"p":3,"g":5.4,"v":1000,"s":10},{"p":3,"g":5.4,"v":930,"s":-8},{"p":3,"g":5.4,"v":930,"s":-4},{"p":3,"g":5.4,"v":930,"s":4},{"p":3,"g":5.4,"v":930,"s":8},{"p":3,"g":5.4,"v":830,"s":-3},{"p":3,"g":5.4,"v":830,"s":3},{"p":3,"g":5.4,"v":690,"s":0},{"p":3,"g":5.4,"v":300,"s":-3},{"p":3,"g":5.4,"v":300,"s":4},{"p":3,"g":5.4,"v":57,"s":-10},{"p":3,"g":5.4,"v":48,"s":-3},{"p":3,"g":5.4,"v":57,"s":4},{"p":3,"g":5.4,"v":60,"s":10},{"p":3,"g":5.4,"v":14,"s":0},{"p":3,"g":5.4,"v":9.5,"s":-3},{"p":3,"g":5.4,"v":9.5,"s":3},{"p":3,"g":5.4,"v":1.1,"s":-7},{"p":3,"g":5.4,"v":0.95,"s":0},{"p":3,"g":5.4,"v":0.95,"s":7},
{"p":1,"g":1,"v":50,"k":"m"},{"p":1,"g":2,"v":33,"k":"m"},{"p":1,"g":3,"v":10,"k":"m"},{"p":1,"g":4.4,"v":26,"k":"m"},{"p":1,"g":5.4,"v":7,"k":"m"},
{"p":2,"g":1,"v":137,"k":"m"},{"p":2,"g":2,"v":71,"k":"m"},{"p":2,"g":3,"v":21,"k":"m"},{"p":2,"g":4.4,"v":64,"k":"m"},{"p":2,"g":5.4,"v":30,"k":"m"},
{"p":3,"g":1,"v":677,"k":"m"},{"p":3,"g":2,"v":689,"k":"m"},{"p":3,"g":3,"v":319,"k":"m"},{"p":3,"g":4.4,"v":551,"k":"m"},{"p":3,"g":5.4,"v":396,"k":"m"},
{"p":1,"g":1,"k":"l","t":"50"},{"p":1,"g":2,"k":"l","t":"33"},{"p":1,"g":3,"k":"l","t":"10"},{"p":1,"g":4.4,"k":"l","t":"26"},{"p":1,"g":5.4,"k":"l","t":"7.0"},
{"p":2,"g":1,"k":"l","t":"137"},{"p":2,"g":2,"k":"l","t":"71"},{"p":2,"g":3,"k":"l","t":"21"},{"p":2,"g":4.4,"k":"l","t":"64"},{"p":2,"g":5.4,"k":"l","t":"30"},
{"p":3,"g":1,"k":"l","t":"677"},{"p":3,"g":2,"k":"l","t":"689"},{"p":3,"g":3,"k":"l","t":"319"},{"p":3,"g":4.4,"k":"l","t":"551"},{"p":3,"g":5.4,"k":"l","t":"396"},
{"p":1,"k":"b","g":1.82,"g2":4.76,"v":7943,"t":">0.99"},{"p":1,"k":"b","g":5.18,"g2":8.0,"v":7943,"t":"0.11"},{"p":1,"k":"b","g":1.82,"g2":12.0,"v":25700,"t":">0.99"},{"p":1,"k":"b","g":5.0,"g2":12.0,"v":61660,"t":">0.99"},{"p":1,"k":"b","g":8.0,"g2":15.0,"v":166000,"t":">0.99"},{"p":1,"k":"b","g":12.0,"g2":15.0,"v":7943,"t":"0.034"},
{"p":2,"k":"b","g":1.82,"g2":4.76,"v":10000,"t":">0.99"},{"p":2,"k":"b","g":5.18,"g2":8.0,"v":10000,"t":"0.26"},{"p":2,"k":"b","g":1.82,"g2":12.0,"v":28840,"t":">0.99"},{"p":2,"k":"b","g":5.0,"g2":12.0,"v":75860,"t":">0.99"},{"p":2,"k":"b","g":8.0,"g2":15.0,"v":186200,"t":">0.99"},{"p":2,"k":"b","g":12.0,"g2":15.0,"v":10000,"t":"0.65"},
{"p":3,"k":"b","g":1.82,"g2":4.76,"v":9550,"t":">0.99"},{"p":3,"k":"b","g":5.18,"g2":8.0,"v":9550,"t":"0.029"},{"p":3,"k":"b","g":1.82,"g2":12.0,"v":23990,"t":"0.96"},{"p":3,"k":"b","g":5.0,"g2":12.0,"v":60260,"t":">0.99"},{"p":3,"k":"b","g":8.0,"g2":15.0,"v":177800,"t":"0.44"},{"p":3,"k":"b","g":12.0,"g2":15.0,"v":8913,"t":">0.99"}
]},
"spacing":38,
"hconcat":[
{"spacing":6,"data":{"name":"A"},"vconcat":[
{"spacing":19,"vconcat":[
{"spacing":1,"hconcat":[
{"width":110,"height":174,"layer":[
{"transform":[{"filter":"datum.p==='WT' && isValid(datum.s)"}],"mark":{"type":"circle","size":26,"opacity":1,"color":"#000"},"encoding":{"x":{"field":"g","type":"ordinal","scale":{"domain":[1,2],"paddingInner":0,"paddingOuter":0.25},"axis":{"labels":false,"title":null,"tickSize":5}},"xOffset":{"field":"s","type":"quantitative","scale":{"domain":[-10,10],"range":[2,42]}},"y":{"field":"v","type":"quantitative","scale":{"type":"log","domain":[0.1,32060],"nice":false},"axis":{"values":[0.1,0.2,0.3,0.4,0.5,0.6,0.7,0.8,0.9,1,2,3,4,5,6,7,8,9,10,20,30,40,50,60,70,80,90,100,200,300,400,500,600,700,800,900,1000,2000,3000,4000,5000,6000,7000,8000,9000,10000],"labelExpr":"datum.value===10000?'10⁴':datum.value===1000?'10³':datum.value===100?'10²':datum.value===10?'10¹':datum.value===1?'10⁰':datum.value===0.1?'10⁻¹':''","title":"IC₅₀ (ng/ml)","titleY":95,"domain":false,"labelOverlap":false,"labelPadding":2,"tickSize":{"condition":{"test":"abs(log(datum.value)/LN10-round(log(datum.value)/LN10))<0.01","value":5},"value":3}}}}},
{"transform":[{"filter":"datum.p==='WT' && datum.k==='m'"}],"mark":{"type":"tick","orient":"horizontal","size":30,"thickness":2,"color":"#e8412c","opacity":1},"encoding":{"x":{"field":"g","type":"ordinal","bandPosition":0.5},"y":{"field":"v","type":"quantitative"}}},
{"transform":[{"filter":"datum.p==='WT' && datum.k==='p'"}],"mark":{"type":"tick","orient":"horizontal","size":44,"thickness":1,"color":"#555","opacity":1},"encoding":{"x":{"datum":1,"type":"ordinal","bandPosition":1},"y":{"datum":2240}}},
{"transform":[{"filter":"datum.p==='WT' && datum.k==='p'"}],"mark":{"type":"text","fontSize":13,"baseline":"alphabetic","dy":-3},"encoding":{"x":{"datum":1,"type":"ordinal","bandPosition":1},"y":{"datum":2240},"text":{"field":"t"}}},
{"data":{"values":[{}]},"mark":{"type":"rule","color":"#333"},"encoding":{"x":{"datum":1,"type":"ordinal","bandPosition":-0.25},"y":{"datum":0.1},"y2":{"datum":10000}}},
{"data":{"values":[{}]},"mark":{"type":"text","text":"WT","fontSize":14,"baseline":"alphabetic"},"encoding":{"x":{"datum":1,"type":"ordinal","bandPosition":1},"y":{"datum":15490}}},
{"data":{"values":[{}]},"mark":{"type":"text","text":"a","fontSize":30,"fontWeight":"bold","align":"left","baseline":"alphabetic"},"encoding":{"x":{"datum":1,"type":"ordinal","bandPosition":-1.34},"y":{"datum":355000}}}
]},
{"width":110,"height":174,"title":{"text":["WT","(R683G)"],"offset":-13},"layer":[
{"transform":[{"filter":"datum.p==='WTR' && isValid(datum.s)"}],"mark":{"type":"circle","size":26,"opacity":1,"color":"#000"},"encoding":{"x":{"field":"g","type":"ordinal","scale":{"domain":[1,2],"paddingInner":0,"paddingOuter":0.25},"axis":{"labels":false,"title":null,"tickSize":5}},"xOffset":{"field":"s","type":"quantitative","scale":{"domain":[-10,10],"range":[2,42]}},"y":{"field":"v","type":"quantitative","scale":{"type":"log","domain":[0.1,32060],"nice":false},"axis":{"values":[0.1,0.2,0.3,0.4,0.5,0.6,0.7,0.8,0.9,1,2,3,4,5,6,7,8,9,10,20,30,40,50,60,70,80,90,100,200,300,400,500,600,700,800,900,1000,2000,3000,4000,5000,6000,7000,8000,9000,10000],"labels":false,"title":null,"domain":false,"tickSize":{"condition":{"test":"abs(log(datum.value)/LN10-round(log(datum.value)/LN10))<0.01","value":5},"value":3}}}}},
{"transform":[{"filter":"datum.p==='WTR' && datum.k==='m'"}],"mark":{"type":"tick","orient":"horizontal","size":30,"thickness":2,"color":"#e8412c","opacity":1},"encoding":{"x":{"field":"g","type":"ordinal","bandPosition":0.5},"y":{"field":"v","type":"quantitative"}}},
{"transform":[{"filter":"datum.p==='WTR' && datum.k==='p'"}],"mark":{"type":"tick","orient":"horizontal","size":44,"thickness":1,"color":"#555","opacity":1},"encoding":{"x":{"datum":1,"type":"ordinal","bandPosition":1},"y":{"datum":2240}}},
{"transform":[{"filter":"datum.p==='WTR' && datum.k==='p'"}],"mark":{"type":"text","fontSize":13,"baseline":"alphabetic","dy":-3},"encoding":{"x":{"datum":1,"type":"ordinal","bandPosition":1},"y":{"datum":2240},"text":{"field":"t"}}},
{"data":{"values":[{}]},"mark":{"type":"rule","color":"#333"},"encoding":{"x":{"datum":1,"type":"ordinal","bandPosition":-0.25},"y":{"datum":0.1},"y2":{"datum":10000}}}
]},
{"width":110,"height":174,"title":{"text":["R346S"],"offset":-13},"layer":[
{"transform":[{"filter":"datum.p==='R346S' && isValid(datum.s)"}],"mark":{"type":"circle","size":26,"opacity":1,"color":"#000"},"encoding":{"x":{"field":"g","type":"ordinal","scale":{"domain":[1,2],"paddingInner":0,"paddingOuter":0.25},"axis":{"labels":false,"title":null,"tickSize":5}},"xOffset":{"field":"s","type":"quantitative","scale":{"domain":[-10,10],"range":[2,42]}},"y":{"field":"v","type":"quantitative","scale":{"type":"log","domain":[0.1,32060],"nice":false},"axis":{"values":[0.1,0.2,0.3,0.4,0.5,0.6,0.7,0.8,0.9,1,2,3,4,5,6,7,8,9,10,20,30,40,50,60,70,80,90,100,200,300,400,500,600,700,800,900,1000,2000,3000,4000,5000,6000,7000,8000,9000,10000],"labels":false,"title":null,"domain":false,"tickSize":{"condition":{"test":"abs(log(datum.value)/LN10-round(log(datum.value)/LN10))<0.01","value":5},"value":3}}}}},
{"transform":[{"filter":"datum.p==='R346S' && datum.k==='m'"}],"mark":{"type":"tick","orient":"horizontal","size":30,"thickness":2,"color":"#e8412c","opacity":1},"encoding":{"x":{"field":"g","type":"ordinal","bandPosition":0.5},"y":{"field":"v","type":"quantitative"}}},
{"transform":[{"filter":"datum.p==='R346S' && datum.k==='p'"}],"mark":{"type":"tick","orient":"horizontal","size":44,"thickness":1,"color":"#555","opacity":1},"encoding":{"x":{"datum":1,"type":"ordinal","bandPosition":1},"y":{"datum":2240}}},
{"transform":[{"filter":"datum.p==='R346S' && datum.k==='p'"}],"mark":{"type":"text","fontSize":13,"baseline":"alphabetic","dy":-3},"encoding":{"x":{"datum":1,"type":"ordinal","bandPosition":1},"y":{"datum":2240},"text":{"field":"t"}}},
{"data":{"values":[{}]},"mark":{"type":"rule","color":"#333"},"encoding":{"x":{"datum":1,"type":"ordinal","bandPosition":-0.25},"y":{"datum":0.1},"y2":{"datum":10000}}}
]}
]},
{"spacing":1,"hconcat":[
{"width":110,"height":158,"title":{"text":["K417N"],"offset":-4},"layer":[
{"transform":[{"filter":"datum.p==='K417N' && isValid(datum.s)"}],"mark":{"type":"circle","size":26,"opacity":1,"color":"#000"},"encoding":{"x":{"field":"g","type":"ordinal","scale":{"domain":[1,2],"paddingInner":0,"paddingOuter":0.25},"axis":{"labels":false,"title":null,"tickSize":5}},"xOffset":{"field":"s","type":"quantitative","scale":{"domain":[-10,10],"range":[2,42]}},"y":{"field":"v","type":"quantitative","scale":{"type":"log","domain":[0.1,10000],"nice":false},"axis":{"values":[0.1,0.2,0.3,0.4,0.5,0.6,0.7,0.8,0.9,1,2,3,4,5,6,7,8,9,10,20,30,40,50,60,70,80,90,100,200,300,400,500,600,700,800,900,1000,2000,3000,4000,5000,6000,7000,8000,9000,10000],"labelExpr":"datum.value===10000?'10⁴':datum.value===1000?'10³':datum.value===100?'10²':datum.value===10?'10¹':datum.value===1?'10⁰':datum.value===0.1?'10⁻¹':''","title":"IC₅₀ (ng/ml)","labelOverlap":false,"labelPadding":2,"tickSize":{"condition":{"test":"abs(log(datum.value)/LN10-round(log(datum.value)/LN10))<0.01","value":5},"value":3}}}}},
{"transform":[{"filter":"datum.p==='K417N' && datum.k==='m'"}],"mark":{"type":"tick","orient":"horizontal","size":30,"thickness":2,"color":"#e8412c","opacity":1},"encoding":{"x":{"field":"g","type":"ordinal","bandPosition":0.5},"y":{"field":"v","type":"quantitative"}}},
{"transform":[{"filter":"datum.p==='K417N' && datum.k==='p'"}],"mark":{"type":"tick","orient":"horizontal","size":44,"thickness":1,"color":"#555","opacity":1},"encoding":{"x":{"datum":1,"type":"ordinal","bandPosition":1},"y":{"datum":2240}}},
{"transform":[{"filter":"datum.p==='K417N' && datum.k==='p'"}],"mark":{"type":"text","fontSize":13,"baseline":"alphabetic","dy":-3},"encoding":{"x":{"datum":1,"type":"ordinal","bandPosition":1},"y":{"datum":2240},"text":{"field":"t"}}}
]},
{"width":110,"height":158,"title":{"text":["N440K"]},"layer":[
{"transform":[{"filter":"datum.p==='N440K' && isValid(datum.s)"}],"mark":{"type":"circle","size":26,"opacity":1,"color":"#000"},"encoding":{"x":{"field":"g","type":"ordinal","scale":{"domain":[1,2],"paddingInner":0,"paddingOuter":0.25},"axis":{"labels":false,"title":null,"tickSize":5}},"xOffset":{"field":"s","type":"quantitative","scale":{"domain":[-10,10],"range":[2,42]}},"y":{"field":"v","type":"quantitative","scale":{"type":"log","domain":[0.1,10000],"nice":false},"axis":{"values":[0.1,0.2,0.3,0.4,0.5,0.6,0.7,0.8,0.9,1,2,3,4,5,6,7,8,9,10,20,30,40,50,60,70,80,90,100,200,300,400,500,600,700,800,900,1000,2000,3000,4000,5000,6000,7000,8000,9000,10000],"labels":false,"title":null,"tickSize":{"condition":{"test":"abs(log(datum.value)/LN10-round(log(datum.value)/LN10))<0.01","value":5},"value":3}}}}},
{"transform":[{"filter":"datum.p==='N440K' && datum.k==='m'"}],"mark":{"type":"tick","orient":"horizontal","size":30,"thickness":2,"color":"#e8412c","opacity":1},"encoding":{"x":{"field":"g","type":"ordinal","bandPosition":0.5},"y":{"field":"v","type":"quantitative"}}},
{"transform":[{"filter":"datum.p==='N440K' && datum.k==='p'"}],"mark":{"type":"tick","orient":"horizontal","size":44,"thickness":1,"color":"#555","opacity":1},"encoding":{"x":{"datum":1,"type":"ordinal","bandPosition":1},"y":{"datum":2240}}},
{"transform":[{"filter":"datum.p==='N440K' && datum.k==='p'"}],"mark":{"type":"text","fontSize":13,"baseline":"alphabetic","dy":-3},"encoding":{"x":{"datum":1,"type":"ordinal","bandPosition":1},"y":{"datum":2240},"text":{"field":"t"}}}
]},
{"width":110,"height":158,"title":{"text":["A475V"]},"layer":[
{"transform":[{"filter":"datum.p==='A475V' && isValid(datum.s)"}],"mark":{"type":"circle","size":26,"opacity":1,"color":"#000"},"encoding":{"x":{"field":"g","type":"ordinal","scale":{"domain":[1,2],"paddingInner":0,"paddingOuter":0.25},"axis":{"labels":false,"title":null,"tickSize":5}},"xOffset":{"field":"s","type":"quantitative","scale":{"domain":[-10,10],"range":[2,42]}},"y":{"field":"v","type":"quantitative","scale":{"type":"log","domain":[0.1,10000],"nice":false},"axis":{"values":[0.1,0.2,0.3,0.4,0.5,0.6,0.7,0.8,0.9,1,2,3,4,5,6,7,8,9,10,20,30,40,50,60,70,80,90,100,200,300,400,500,600,700,800,900,1000,2000,3000,4000,5000,6000,7000,8000,9000,10000],"labels":false,"title":null,"tickSize":{"condition":{"test":"abs(log(datum.value)/LN10-round(log(datum.value)/LN10))<0.01","value":5},"value":3}}}}},
{"transform":[{"filter":"datum.p==='A475V' && datum.k==='m'"}],"mark":{"type":"tick","orient":"horizontal","size":30,"thickness":2,"color":"#e8412c","opacity":1},"encoding":{"x":{"field":"g","type":"ordinal","bandPosition":0.5},"y":{"field":"v","type":"quantitative"}}},
{"transform":[{"filter":"datum.p==='A475V' && datum.k==='p'"}],"mark":{"type":"tick","orient":"horizontal","size":44,"thickness":1,"color":"#555","opacity":1},"encoding":{"x":{"datum":1,"type":"ordinal","bandPosition":1},"y":{"datum":2240}}},
{"transform":[{"filter":"datum.p==='A475V' && datum.k==='p'"}],"mark":{"type":"text","fontSize":13,"baseline":"alphabetic","dy":-3},"encoding":{"x":{"datum":1,"type":"ordinal","bandPosition":1},"y":{"datum":2240},"text":{"field":"t"}}}
]}
]}
]},
{"spacing":11,"vconcat":[
{"spacing":1,"hconcat":[
{"width":110,"height":158,"title":{"text":["E484K","(R683G)"],"offset":-4},"layer":[
{"transform":[{"filter":"datum.p==='E484K' && isValid(datum.s)"}],"mark":{"type":"circle","size":26,"opacity":1,"color":"#000"},"encoding":{"x":{"field":"g","type":"ordinal","scale":{"domain":[1,2],"paddingInner":0,"paddingOuter":0.25},"axis":{"labels":false,"title":null,"tickSize":5}},"xOffset":{"field":"s","type":"quantitative","scale":{"domain":[-10,10],"range":[2,42]}},"y":{"field":"v","type":"quantitative","scale":{"type":"log","domain":[0.1,10000],"nice":false},"axis":{"values":[0.1,0.2,0.3,0.4,0.5,0.6,0.7,0.8,0.9,1,2,3,4,5,6,7,8,9,10,20,30,40,50,60,70,80,90,100,200,300,400,500,600,700,800,900,1000,2000,3000,4000,5000,6000,7000,8000,9000,10000],"labelExpr":"datum.value===10000?'10⁴':datum.value===1000?'10³':datum.value===100?'10²':datum.value===10?'10¹':datum.value===1?'10⁰':datum.value===0.1?'10⁻¹':''","title":"IC₅₀ (ng/ml)","labelOverlap":false,"labelPadding":2,"tickSize":{"condition":{"test":"abs(log(datum.value)/LN10-round(log(datum.value)/LN10))<0.01","value":5},"value":3}}}}},
{"transform":[{"filter":"datum.p==='E484K' && datum.k==='m'"}],"mark":{"type":"tick","orient":"horizontal","size":30,"thickness":2,"color":"#e8412c","opacity":1},"encoding":{"x":{"field":"g","type":"ordinal","bandPosition":0.5},"y":{"field":"v","type":"quantitative"}}},
{"transform":[{"filter":"datum.p==='E484K' && datum.k==='p'"}],"mark":{"type":"tick","orient":"horizontal","size":44,"thickness":1,"color":"#555","opacity":1},"encoding":{"x":{"datum":1,"type":"ordinal","bandPosition":1},"y":{"datum":2240}}},
{"transform":[{"filter":"datum.p==='E484K' && datum.k==='p'"}],"mark":{"type":"text","fontSize":13,"baseline":"alphabetic","dy":-3},"encoding":{"x":{"datum":1,"type":"ordinal","bandPosition":1},"y":{"datum":2240},"text":{"field":"t"}}}
]},
{"width":110,"height":158,"title":{"text":["Q493R"]},"layer":[
{"transform":[{"filter":"datum.p==='Q493R' && isValid(datum.s)"}],"mark":{"type":"circle","size":26,"opacity":1,"color":"#000"},"encoding":{"x":{"field":"g","type":"ordinal","scale":{"domain":[1,2],"paddingInner":0,"paddingOuter":0.25},"axis":{"labels":false,"title":null,"tickSize":5}},"xOffset":{"field":"s","type":"quantitative","scale":{"domain":[-10,10],"range":[2,42]}},"y":{"field":"v","type":"quantitative","scale":{"type":"log","domain":[0.1,10000],"nice":false},"axis":{"values":[0.1,0.2,0.3,0.4,0.5,0.6,0.7,0.8,0.9,1,2,3,4,5,6,7,8,9,10,20,30,40,50,60,70,80,90,100,200,300,400,500,600,700,800,900,1000,2000,3000,4000,5000,6000,7000,8000,9000,10000],"labels":false,"title":null,"tickSize":{"condition":{"test":"abs(log(datum.value)/LN10-round(log(datum.value)/LN10))<0.01","value":5},"value":3}}}}},
{"transform":[{"filter":"datum.p==='Q493R' && datum.k==='m'"}],"mark":{"type":"tick","orient":"horizontal","size":30,"thickness":2,"color":"#e8412c","opacity":1},"encoding":{"x":{"field":"g","type":"ordinal","bandPosition":0.5},"y":{"field":"v","type":"quantitative"}}},
{"transform":[{"filter":"datum.p==='Q493R' && datum.k==='p'"}],"mark":{"type":"tick","orient":"horizontal","size":44,"thickness":1,"color":"#555","opacity":1},"encoding":{"x":{"datum":1,"type":"ordinal","bandPosition":1},"y":{"datum":2240}}},
{"transform":[{"filter":"datum.p==='Q493R' && datum.k==='p'"}],"mark":{"type":"text","fontSize":13,"baseline":"alphabetic","dy":-3},"encoding":{"x":{"datum":1,"type":"ordinal","bandPosition":1},"y":{"datum":2240},"text":{"field":"t"}}}
]},
{"width":110,"height":158,"title":{"text":["N501Y"]},"layer":[
{"transform":[{"filter":"datum.p==='N501Y' && isValid(datum.s)"}],"mark":{"type":"circle","size":26,"opacity":1,"color":"#000"},"encoding":{"x":{"field":"g","type":"ordinal","scale":{"domain":[1,2],"paddingInner":0,"paddingOuter":0.25},"axis":{"labels":false,"title":null,"tickSize":5}},"xOffset":{"field":"s","type":"quantitative","scale":{"domain":[-10,10],"range":[2,42]}},"y":{"field":"v","type":"quantitative","scale":{"type":"log","domain":[0.1,10000],"nice":false},"axis":{"values":[0.1,0.2,0.3,0.4,0.5,0.6,0.7,0.8,0.9,1,2,3,4,5,6,7,8,9,10,20,30,40,50,60,70,80,90,100,200,300,400,500,600,700,800,900,1000,2000,3000,4000,5000,6000,7000,8000,9000,10000],"labels":false,"title":null,"tickSize":{"condition":{"test":"abs(log(datum.value)/LN10-round(log(datum.value)/LN10))<0.01","value":5},"value":3}}}}},
{"transform":[{"filter":"datum.p==='N501Y' && datum.k==='m'"}],"mark":{"type":"tick","orient":"horizontal","size":30,"thickness":2,"color":"#e8412c","opacity":1},"encoding":{"x":{"field":"g","type":"ordinal","bandPosition":0.5},"y":{"field":"v","type":"quantitative"}}},
{"transform":[{"filter":"datum.p==='N501Y' && datum.k==='p'"}],"mark":{"type":"tick","orient":"horizontal","size":44,"thickness":1,"color":"#555","opacity":1},"encoding":{"x":{"datum":1,"type":"ordinal","bandPosition":1},"y":{"datum":2240}}},
{"transform":[{"filter":"datum.p==='N501Y' && datum.k==='p'"}],"mark":{"type":"text","fontSize":13,"baseline":"alphabetic","dy":-3},"encoding":{"x":{"datum":1,"type":"ordinal","bandPosition":1},"y":{"datum":2240},"text":{"field":"t"}}}
]}
]},
{"spacing":1,"hconcat":[
{"width":110,"height":158,"title":{"text":["Beta-RBD","(R683G)"],"offset":-4},"layer":[
{"transform":[{"filter":"datum.p==='Beta' && isValid(datum.s)"}],"mark":{"type":"circle","size":26,"opacity":1,"color":"#000"},"encoding":{"x":{"field":"g","type":"ordinal","scale":{"domain":[1,2],"paddingInner":0,"paddingOuter":0.25},"axis":{"labelExpr":"datum.value==1?'1.5m':'6m'","labelAngle":0,"labelOverlap":false,"labelPadding":0,"title":null,"tickSize":5}},"xOffset":{"field":"s","type":"quantitative","scale":{"domain":[-10,10],"range":[2,42]}},"y":{"field":"v","type":"quantitative","scale":{"type":"log","domain":[0.1,10000],"nice":false},"axis":{"values":[0.1,0.2,0.3,0.4,0.5,0.6,0.7,0.8,0.9,1,2,3,4,5,6,7,8,9,10,20,30,40,50,60,70,80,90,100,200,300,400,500,600,700,800,900,1000,2000,3000,4000,5000,6000,7000,8000,9000,10000],"labelExpr":"datum.value===10000?'10⁴':datum.value===1000?'10³':datum.value===100?'10²':datum.value===10?'10¹':datum.value===1?'10⁰':datum.value===0.1?'10⁻¹':''","title":"IC₅₀ (ng/ml)","labelOverlap":false,"labelPadding":2,"tickSize":{"condition":{"test":"abs(log(datum.value)/LN10-round(log(datum.value)/LN10))<0.01","value":5},"value":3}}}}},
{"transform":[{"filter":"datum.p==='Beta' && datum.k==='m'"}],"mark":{"type":"tick","orient":"horizontal","size":30,"thickness":2,"color":"#e8412c","opacity":1},"encoding":{"x":{"field":"g","type":"ordinal","bandPosition":0.5},"y":{"field":"v","type":"quantitative"}}},
{"transform":[{"filter":"datum.p==='Beta' && datum.k==='p'"}],"mark":{"type":"tick","orient":"horizontal","size":44,"thickness":1,"color":"#555","opacity":1},"encoding":{"x":{"datum":1,"type":"ordinal","bandPosition":1},"y":{"datum":2240}}},
{"transform":[{"filter":"datum.p==='Beta' && datum.k==='p'"}],"mark":{"type":"text","fontSize":13,"baseline":"alphabetic","dy":-3},"encoding":{"x":{"datum":1,"type":"ordinal","bandPosition":1},"y":{"datum":2240},"text":{"field":"t"}}}
]},
{"width":110,"height":158,"title":{"text":["Delta-RBD","(R683G)"]},"layer":[
{"transform":[{"filter":"datum.p==='Delta' && isValid(datum.s)"}],"mark":{"type":"circle","size":26,"opacity":1,"color":"#000"},"encoding":{"x":{"field":"g","type":"ordinal","scale":{"domain":[1,2],"paddingInner":0,"paddingOuter":0.25},"axis":{"labelExpr":"datum.value==1?'1.5m':'6m'","labelAngle":0,"labelOverlap":false,"labelPadding":0,"title":null,"tickSize":5}},"xOffset":{"field":"s","type":"quantitative","scale":{"domain":[-10,10],"range":[2,42]}},"y":{"field":"v","type":"quantitative","scale":{"type":"log","domain":[0.1,10000],"nice":false},"axis":{"values":[0.1,0.2,0.3,0.4,0.5,0.6,0.7,0.8,0.9,1,2,3,4,5,6,7,8,9,10,20,30,40,50,60,70,80,90,100,200,300,400,500,600,700,800,900,1000,2000,3000,4000,5000,6000,7000,8000,9000,10000],"labels":false,"title":null,"tickSize":{"condition":{"test":"abs(log(datum.value)/LN10-round(log(datum.value)/LN10))<0.01","value":5},"value":3}}}}},
{"transform":[{"filter":"datum.p==='Delta' && datum.k==='m'"}],"mark":{"type":"tick","orient":"horizontal","size":30,"thickness":2,"color":"#e8412c","opacity":1},"encoding":{"x":{"field":"g","type":"ordinal","bandPosition":0.5},"y":{"field":"v","type":"quantitative"}}},
{"transform":[{"filter":"datum.p==='Delta' && datum.k==='p'"}],"mark":{"type":"tick","orient":"horizontal","size":44,"thickness":1,"color":"#555","opacity":1},"encoding":{"x":{"datum":1,"type":"ordinal","bandPosition":1},"y":{"datum":2240}}},
{"transform":[{"filter":"datum.p==='Delta' && datum.k==='p'"}],"mark":{"type":"text","fontSize":13,"baseline":"alphabetic","dy":-3},"encoding":{"x":{"datum":1,"type":"ordinal","bandPosition":1},"y":{"datum":2240},"text":{"field":"t"}}}
]},
{"width":110,"height":158,"title":{"text":["Omicron","(R683G)"]},"layer":[
{"transform":[{"filter":"datum.p==='Omi' && isValid(datum.s)"}],"mark":{"type":"circle","size":26,"opacity":1,"color":"#000"},"encoding":{"x":{"field":"g","type":"ordinal","scale":{"domain":[1,2],"paddingInner":0,"paddingOuter":0.25},"axis":{"labelExpr":"datum.value==1?'1.5m':'6m'","labelAngle":0,"labelOverlap":false,"labelPadding":0,"title":null,"tickSize":5}},"xOffset":{"field":"s","type":"quantitative","scale":{"domain":[-10,10],"range":[2,42]}},"y":{"field":"v","type":"quantitative","scale":{"type":"log","domain":[0.1,10000],"nice":false},"axis":{"values":[0.1,0.2,0.3,0.4,0.5,0.6,0.7,0.8,0.9,1,2,3,4,5,6,7,8,9,10,20,30,40,50,60,70,80,90,100,200,300,400,500,600,700,800,900,1000,2000,3000,4000,5000,6000,7000,8000,9000,10000],"labels":false,"title":null,"tickSize":{"condition":{"test":"abs(log(datum.value)/LN10-round(log(datum.value)/LN10))<0.01","value":5},"value":3}}}}},
{"transform":[{"filter":"datum.p==='Omi' && datum.k==='m'"}],"mark":{"type":"tick","orient":"horizontal","size":30,"thickness":2,"color":"#e8412c","opacity":1},"encoding":{"x":{"field":"g","type":"ordinal","bandPosition":0.5},"y":{"field":"v","type":"quantitative"}}},
{"transform":[{"filter":"datum.p==='Omi' && datum.k==='p'"}],"mark":{"type":"tick","orient":"horizontal","size":44,"thickness":1,"color":"#555","opacity":1},"encoding":{"x":{"datum":1,"type":"ordinal","bandPosition":1},"y":{"datum":2240}}},
{"transform":[{"filter":"datum.p==='Omi' && datum.k==='p'"}],"mark":{"type":"text","fontSize":13,"baseline":"alphabetic","dy":-3},"encoding":{"x":{"datum":1,"type":"ordinal","bandPosition":1},"y":{"datum":2240},"text":{"field":"t"}}}
]}
]}
]}
]},
{"spacing":19,"data":{"name":"B"},"vconcat":[
{"width":296,"height":174,"resolve":{"scale":{"x":"independent","xOffset":"independent"}},"layer":[
{"transform":[{"filter":"datum.p===1 && isValid(datum.s)"}],"mark":{"type":"circle","size":17,"opacity":1},"encoding":{"x":{"field":"g","type":"ordinal","scale":{"domain":["s0",1,"s2","s3",2,"s5","s6",3,"s8","s9","s10",4.4,"s12","s13",5.4,"s15"],"paddingInner":0,"paddingOuter":0.735},"axis":{"values":[1,2,3,4.4,5.4],"labelExpr":"datum.value==1?'3 wk':datum.value==2?'1.3m':datum.value==3?'5m':datum.value==4.4?'1.5m':'6m'","labelAngle":0,"labelOverlap":false,"labelPadding":3,"title":null,"tickSize":5}},"xOffset":{"field":"s","type":"quantitative","scale":{"domain":[-20,20],"range":[-21.5,38.5]}},"y":{"field":"v","type":"quantitative","scale":{"type":"log","domain":[0.1,10000],"nice":false},"axis":{"values":[0.1,0.2,0.3,0.4,0.5,0.6,0.7,0.8,0.9,1,2,3,4,5,6,7,8,9,10,20,30,40,50,60,70,80,90,100,200,300,400,500,600,700,800,900,1000,2000,3000,4000,5000,6000,7000,8000,9000,10000],"labelExpr":"datum.value===10000?'10⁴':datum.value===1000?'10³':datum.value===100?'10²':datum.value===10?'10¹':datum.value===1?'10⁰':datum.value===0.1?'10⁻¹':''","title":"WT(R683G)-IC₅₀ (ng/ml)","labelOverlap":false,"labelPadding":2,"tickSize":{"condition":{"test":"abs(log(datum.value)/LN10-round(log(datum.value)/LN10))<0.01","value":5},"value":3}}},"color":{"condition":{"test":"datum.g<3.5","value":"#9b9b9b"},"value":"#000"}}},
{"transform":[{"filter":"datum.p===1 && datum.k==='m'"}],"mark":{"type":"tick","orient":"horizontal","size":35,"thickness":3,"color":"#e8412c","opacity":1},"encoding":{"x":{"field":"g","type":"ordinal","bandPosition":0.5,"scale":{"domain":["s0",1,"s2","s3",2,"s5","s6",3,"s8","s9","s10",4.4,"s12","s13",5.4,"s15"],"paddingInner":0,"paddingOuter":0.735},"axis":null},"y":{"field":"v","type":"quantitative"}}},
{"transform":[{"filter":"datum.p===1 && datum.k==='l'"}],"mark":{"type":"text","fontSize":14},"encoding":{"x":{"field":"g","type":"ordinal","bandPosition":0.5,"scale":{"domain":["s0",1,"s2","s3",2,"s5","s6",3,"s8","s9","s10",4.4,"s12","s13",5.4,"s15"],"paddingInner":0,"paddingOuter":0.735},"axis":null},"y":{"datum":2630},"text":{"field":"t"},"color":{"condition":{"test":"datum.p===3 && datum.g<3.5","value":"#9b9b9b"},"value":"#e8412c"}}},
{"transform":[{"filter":"datum.p===1 && datum.k==='b'"}],"mark":{"type":"rule","color":"#222"},"encoding":{"x":{"field":"g","type":"quantitative","scale":{"domain":[-0.235,17.176],"nice":false,"zero":false},"axis":null},"x2":{"field":"g2"},"y":{"field":"v","type":"quantitative"}}},
{"transform":[{"filter":"datum.p===1 && datum.k==='b'"},{"fold":["g","g2"],"as":["e","xe"]},{"aggregate":[{"op":"mean","field":"xe","as":"xm"}],"groupby":["t","v"]}],"mark":{"type":"text","fontSize":13,"baseline":"alphabetic","dy":-2},"encoding":{"x":{"field":"xm","type":"quantitative","scale":{"domain":[-0.235,17.176],"nice":false,"zero":false},"axis":null},"y":{"field":"v","type":"quantitative"},"text":{"field":"t"}}},
{"data":{"values":[{}]},"mark":{"type":"rule","color":"#888","strokeDash":[1.5,1.5]},"encoding":{"x":{"datum":10.18,"type":"quantitative","scale":{"domain":[-0.235,17.176],"nice":false,"zero":false},"axis":null},"y":{"datum":0.1},"y2":{"datum":10000}}},
{"data":{"values":[{}]},"mark":{"type":"text","text":"prime","fontSize":13},"encoding":{"x":{"datum":2,"type":"quantitative","scale":{"domain":[-0.235,17.176],"nice":false,"zero":false},"axis":null},"y":{"datum":0.0099}}},
{"data":{"values":[{}]},"mark":{"type":"rule","color":"#222"},"encoding":{"x":{"datum":3.76,"type":"quantitative","scale":{"domain":[-0.235,17.176],"nice":false,"zero":false},"axis":null},"x2":{"datum":8.82},"y":{"datum":0.0179}}},
{"data":{"values":[{}]},"mark":{"type":"text","text":"post Vax2","fontSize":13},"encoding":{"x":{"datum":6.29,"type":"quantitative","scale":{"domain":[-0.235,17.176],"nice":false,"zero":false},"axis":null},"y":{"datum":0.0099}}},
{"data":{"values":[{}]},"mark":{"type":"rule","color":"#222"},"encoding":{"x":{"datum":1.24,"type":"quantitative","scale":{"domain":[-0.235,17.176],"nice":false,"zero":false},"axis":null},"x2":{"datum":8.47},"y":{"datum":0.0051}}},
{"data":{"values":[{}]},"mark":{"type":"text","text":"mRNA","fontSize":13},"encoding":{"x":{"datum":4.88,"type":"quantitative","scale":{"domain":[-0.235,17.176],"nice":false,"zero":false},"axis":null},"y":{"datum":0.0031}}},
{"data":{"values":[{}]},"mark":{"type":"rule","color":"#222"},"encoding":{"x":{"datum":11.12,"type":"quantitative","scale":{"domain":[-0.235,17.176],"nice":false,"zero":false},"axis":null},"x2":{"datum":16.18},"y":{"datum":0.0051}}},
{"data":{"values":[{}]},"mark":{"type":"text","text":"Ad26.COV2.S","fontSize":13},"encoding":{"x":{"datum":13.65,"type":"quantitative","scale":{"domain":[-0.235,17.176],"nice":false,"zero":false},"axis":null},"y":{"datum":0.0031}}},
{"data":{"values":[{}]},"mark":{"type":"text","text":"b","fontSize":30,"fontWeight":"bold","align":"left","baseline":"alphabetic"},"encoding":{"x":{"datum":-3.29,"type":"quantitative","scale":{"domain":[-0.235,17.176],"nice":false,"zero":false},"axis":null},"y":{"datum":89000}}}
]},
{"width":296,"height":174,"resolve":{"scale":{"x":"independent","xOffset":"independent"}},"layer":[
{"transform":[{"filter":"datum.p===2 && isValid(datum.s)"}],"mark":{"type":"circle","size":17,"opacity":1},"encoding":{"x":{"field":"g","type":"ordinal","scale":{"domain":["s0",1,"s2","s3",2,"s5","s6",3,"s8","s9","s10",4.4,"s12","s13",5.4,"s15"],"paddingInner":0,"paddingOuter":0.735},"axis":{"values":[1,2,3,4.4,5.4],"labelExpr":"datum.value==1?'3 wk':datum.value==2?'1.3m':datum.value==3?'5m':datum.value==4.4?'1.5m':'6m'","labelAngle":0,"labelOverlap":false,"labelPadding":3,"title":null,"tickSize":5}},"xOffset":{"field":"s","type":"quantitative","scale":{"domain":[-20,20],"range":[-21.5,38.5]}},"y":{"field":"v","type":"quantitative","scale":{"type":"log","domain":[0.1,10000],"nice":false},"axis":{"values":[0.1,0.2,0.3,0.4,0.5,0.6,0.7,0.8,0.9,1,2,3,4,5,6,7,8,9,10,20,30,40,50,60,70,80,90,100,200,300,400,500,600,700,800,900,1000,2000,3000,4000,5000,6000,7000,8000,9000,10000],"labelExpr":"datum.value===10000?'10⁴':datum.value===1000?'10³':datum.value===100?'10²':datum.value===10?'10¹':datum.value===1?'10⁰':datum.value===0.1?'10⁻¹':''","title":"Delta-RBD(R683G)-IC₅₀ (ng/ml)","labelOverlap":false,"labelPadding":2,"tickSize":{"condition":{"test":"abs(log(datum.value)/LN10-round(log(datum.value)/LN10))<0.01","value":5},"value":3}}},"color":{"condition":{"test":"datum.g<3.5","value":"#9b9b9b"},"value":"#000"}}},
{"transform":[{"filter":"datum.p===2 && datum.k==='m'"}],"mark":{"type":"tick","orient":"horizontal","size":35,"thickness":3,"color":"#e8412c","opacity":1},"encoding":{"x":{"field":"g","type":"ordinal","bandPosition":0.5,"scale":{"domain":["s0",1,"s2","s3",2,"s5","s6",3,"s8","s9","s10",4.4,"s12","s13",5.4,"s15"],"paddingInner":0,"paddingOuter":0.735},"axis":null},"y":{"field":"v","type":"quantitative"}}},
{"transform":[{"filter":"datum.p===2 && datum.k==='l'"}],"mark":{"type":"text","fontSize":14},"encoding":{"x":{"field":"g","type":"ordinal","bandPosition":0.5,"scale":{"domain":["s0",1,"s2","s3",2,"s5","s6",3,"s8","s9","s10",4.4,"s12","s13",5.4,"s15"],"paddingInner":0,"paddingOuter":0.735},"axis":null},"y":{"datum":2630},"text":{"field":"t"},"color":{"condition":{"test":"datum.p===3 && datum.g<3.5","value":"#9b9b9b"},"value":"#e8412c"}}},
{"transform":[{"filter":"datum.p===2 && datum.k==='b'"}],"mark":{"type":"rule","color":"#222"},"encoding":{"x":{"field":"g","type":"quantitative","scale":{"domain":[-0.235,17.176],"nice":false,"zero":false},"axis":null},"x2":{"field":"g2"},"y":{"field":"v","type":"quantitative"}}},
{"transform":[{"filter":"datum.p===2 && datum.k==='b'"},{"fold":["g","g2"],"as":["e","xe"]},{"aggregate":[{"op":"mean","field":"xe","as":"xm"}],"groupby":["t","v"]}],"mark":{"type":"text","fontSize":13,"baseline":"alphabetic","dy":-2},"encoding":{"x":{"field":"xm","type":"quantitative","scale":{"domain":[-0.235,17.176],"nice":false,"zero":false},"axis":null},"y":{"field":"v","type":"quantitative"},"text":{"field":"t"}}},
{"data":{"values":[{}]},"mark":{"type":"rule","color":"#888","strokeDash":[1.5,1.5]},"encoding":{"x":{"datum":10.18,"type":"quantitative","scale":{"domain":[-0.235,17.176],"nice":false,"zero":false},"axis":null},"y":{"datum":0.1},"y2":{"datum":10000}}},
{"data":{"values":[{}]},"mark":{"type":"text","text":"prime","fontSize":13},"encoding":{"x":{"datum":2,"type":"quantitative","scale":{"domain":[-0.235,17.176],"nice":false,"zero":false},"axis":null},"y":{"datum":0.0099}}},
{"data":{"values":[{}]},"mark":{"type":"rule","color":"#222"},"encoding":{"x":{"datum":3.76,"type":"quantitative","scale":{"domain":[-0.235,17.176],"nice":false,"zero":false},"axis":null},"x2":{"datum":8.82},"y":{"datum":0.0179}}},
{"data":{"values":[{}]},"mark":{"type":"text","text":"post Vax2","fontSize":13},"encoding":{"x":{"datum":6.29,"type":"quantitative","scale":{"domain":[-0.235,17.176],"nice":false,"zero":false},"axis":null},"y":{"datum":0.0099}}},
{"data":{"values":[{}]},"mark":{"type":"rule","color":"#222"},"encoding":{"x":{"datum":1.24,"type":"quantitative","scale":{"domain":[-0.235,17.176],"nice":false,"zero":false},"axis":null},"x2":{"datum":8.47},"y":{"datum":0.0051}}},
{"data":{"values":[{}]},"mark":{"type":"text","text":"mRNA","fontSize":13},"encoding":{"x":{"datum":4.88,"type":"quantitative","scale":{"domain":[-0.235,17.176],"nice":false,"zero":false},"axis":null},"y":{"datum":0.0031}}},
{"data":{"values":[{}]},"mark":{"type":"rule","color":"#222"},"encoding":{"x":{"datum":11.12,"type":"quantitative","scale":{"domain":[-0.235,17.176],"nice":false,"zero":false},"axis":null},"x2":{"datum":16.18},"y":{"datum":0.0051}}},
{"data":{"values":[{}]},"mark":{"type":"text","text":"Ad26.COV2.S","fontSize":13},"encoding":{"x":{"datum":13.65,"type":"quantitative","scale":{"domain":[-0.235,17.176],"nice":false,"zero":false},"axis":null},"y":{"datum":0.0031}}}
]},
{"width":296,"height":174,"resolve":{"scale":{"x":"independent","xOffset":"independent"}},"layer":[
{"transform":[{"filter":"datum.p===3 && isValid(datum.s)"}],"mark":{"type":"circle","size":17,"opacity":1},"encoding":{"x":{"field":"g","type":"ordinal","scale":{"domain":["s0",1,"s2","s3",2,"s5","s6",3,"s8","s9","s10",4.4,"s12","s13",5.4,"s15"],"paddingInner":0,"paddingOuter":0.735},"axis":{"values":[1,2,3,4.4,5.4],"labelExpr":"datum.value==1?'3 wk':datum.value==2?'1.3m':datum.value==3?'5m':datum.value==4.4?'1.5m':'6m'","labelAngle":0,"labelOverlap":false,"labelPadding":3,"title":null,"tickSize":5}},"xOffset":{"field":"s","type":"quantitative","scale":{"domain":[-20,20],"range":[-21.5,38.5]}},"y":{"field":"v","type":"quantitative","scale":{"type":"log","domain":[0.1,10000],"nice":false},"axis":{"values":[0.1,0.2,0.3,0.4,0.5,0.6,0.7,0.8,0.9,1,2,3,4,5,6,7,8,9,10,20,30,40,50,60,70,80,90,100,200,300,400,500,600,700,800,900,1000,2000,3000,4000,5000,6000,7000,8000,9000,10000],"labelExpr":"datum.value===10000?'10⁴':datum.value===1000?'10³':datum.value===100?'10²':datum.value===10?'10¹':datum.value===1?'10⁰':datum.value===0.1?'10⁻¹':''","title":"Omicron(R683G)-IC₅₀ (ng/ml)","labelOverlap":false,"labelPadding":2,"tickSize":{"condition":{"test":"abs(log(datum.value)/LN10-round(log(datum.value)/LN10))<0.01","value":5},"value":3}}},"color":{"condition":{"test":"datum.g<3.5","value":"#9b9b9b"},"value":"#000"}}},
{"transform":[{"filter":"datum.p===3 && datum.k==='m'"}],"mark":{"type":"tick","orient":"horizontal","size":35,"thickness":3,"color":"#e8412c","opacity":1},"encoding":{"x":{"field":"g","type":"ordinal","bandPosition":0.5,"scale":{"domain":["s0",1,"s2","s3",2,"s5","s6",3,"s8","s9","s10",4.4,"s12","s13",5.4,"s15"],"paddingInner":0,"paddingOuter":0.735},"axis":null},"y":{"field":"v","type":"quantitative"}}},
{"transform":[{"filter":"datum.p===3 && datum.k==='l'"}],"mark":{"type":"text","fontSize":14},"encoding":{"x":{"field":"g","type":"ordinal","bandPosition":0.5,"scale":{"domain":["s0",1,"s2","s3",2,"s5","s6",3,"s8","s9","s10",4.4,"s12","s13",5.4,"s15"],"paddingInner":0,"paddingOuter":0.735},"axis":null},"y":{"datum":2630},"text":{"field":"t"},"color":{"condition":{"test":"datum.p===3 && datum.g<3.5","value":"#9b9b9b"},"value":"#e8412c"}}},
{"transform":[{"filter":"datum.p===3 && datum.k==='b'"}],"mark":{"type":"rule","color":"#222"},"encoding":{"x":{"field":"g","type":"quantitative","scale":{"domain":[-0.235,17.176],"nice":false,"zero":false},"axis":null},"x2":{"field":"g2"},"y":{"field":"v","type":"quantitative"}}},
{"transform":[{"filter":"datum.p===3 && datum.k==='b'"},{"fold":["g","g2"],"as":["e","xe"]},{"aggregate":[{"op":"mean","field":"xe","as":"xm"}],"groupby":["t","v"]}],"mark":{"type":"text","fontSize":13,"baseline":"alphabetic","dy":-2},"encoding":{"x":{"field":"xm","type":"quantitative","scale":{"domain":[-0.235,17.176],"nice":false,"zero":false},"axis":null},"y":{"field":"v","type":"quantitative"},"text":{"field":"t"}}},
{"data":{"values":[{}]},"mark":{"type":"rule","color":"#888","strokeDash":[1.5,1.5]},"encoding":{"x":{"datum":10.18,"type":"quantitative","scale":{"domain":[-0.235,17.176],"nice":false,"zero":false},"axis":null},"y":{"datum":0.1},"y2":{"datum":10000}}},
{"data":{"values":[{}]},"mark":{"type":"text","text":"prime","fontSize":13},"encoding":{"x":{"datum":2,"type":"quantitative","scale":{"domain":[-0.235,17.176],"nice":false,"zero":false},"axis":null},"y":{"datum":0.0099}}},
{"data":{"values":[{}]},"mark":{"type":"rule","color":"#222"},"encoding":{"x":{"datum":3.76,"type":"quantitative","scale":{"domain":[-0.235,17.176],"nice":false,"zero":false},"axis":null},"x2":{"datum":8.82},"y":{"datum":0.0179}}},
{"data":{"values":[{}]},"mark":{"type":"text","text":"post Vax2","fontSize":13},"encoding":{"x":{"datum":6.29,"type":"quantitative","scale":{"domain":[-0.235,17.176],"nice":false,"zero":false},"axis":null},"y":{"datum":0.0099}}},
{"data":{"values":[{}]},"mark":{"type":"rule","color":"#222"},"encoding":{"x":{"datum":1.24,"type":"quantitative","scale":{"domain":[-0.235,17.176],"nice":false,"zero":false},"axis":null},"x2":{"datum":8.47},"y":{"datum":0.0051}}},
{"data":{"values":[{}]},"mark":{"type":"text","text":"mRNA","fontSize":13},"encoding":{"x":{"datum":4.88,"type":"quantitative","scale":{"domain":[-0.235,17.176],"nice":false,"zero":false},"axis":null},"y":{"datum":0.0031}}},
{"data":{"values":[{}]},"mark":{"type":"rule","color":"#222"},"encoding":{"x":{"datum":11.12,"type":"quantitative","scale":{"domain":[-0.235,17.176],"nice":false,"zero":false},"axis":null},"x2":{"datum":16.18},"y":{"datum":0.0051}}},
{"data":{"values":[{}]},"mark":{"type":"text","text":"Ad26.COV2.S","fontSize":13},"encoding":{"x":{"datum":13.65,"type":"quantitative","scale":{"domain":[-0.235,17.176],"nice":false,"zero":false},"axis":null},"y":{"datum":0.0031}}}
]}
]}
]
}
